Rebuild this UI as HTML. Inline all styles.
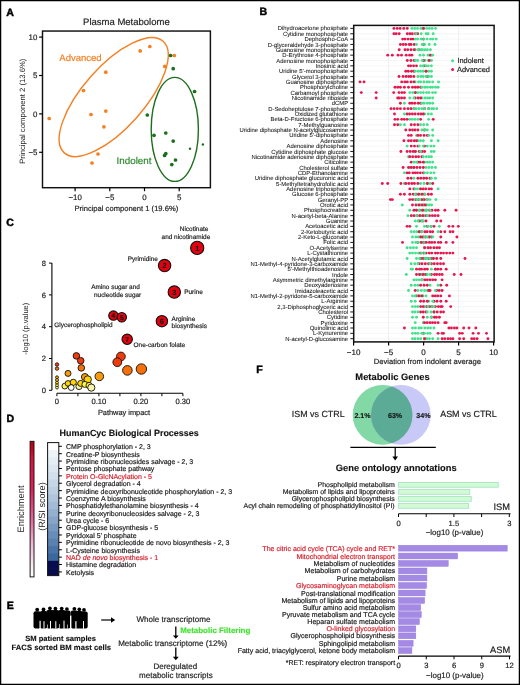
<!DOCTYPE html>
<html><head><meta charset="utf-8"><title>Figure</title>
<style>
html,body{margin:0;padding:0;background:#fff;}
body{width:520px;height:685px;overflow:hidden;}
svg{display:block;font-family:"Liberation Sans", sans-serif;will-change:transform;text-rendering:geometricPrecision;}
</style></head>
<body>
<svg width="520" height="685" viewBox="0 0 520 685">
<rect x="0" y="0" width="520" height="685" fill="#fff"/>
<text x="6.30" y="15.60" font-size="10.6" text-anchor="start" font-weight="bold" fill="#000" stroke="#000" stroke-width="0.45" >A</text>
<text x="259.60" y="15.20" font-size="10.6" text-anchor="start" font-weight="bold" fill="#000" stroke="#000" stroke-width="0.45" >B</text>
<text x="6.30" y="225.70" font-size="10.6" text-anchor="start" font-weight="bold" fill="#000" stroke="#000" stroke-width="0.45" >C</text>
<text x="6.60" y="422.40" font-size="10.6" text-anchor="start" font-weight="bold" fill="#000" stroke="#000" stroke-width="0.45" >D</text>
<text x="6.80" y="609.20" font-size="10.6" text-anchor="start" font-weight="bold" fill="#000" stroke="#000" stroke-width="0.45" >E</text>
<text x="256.20" y="372.50" font-size="10.6" text-anchor="start" font-weight="bold" fill="#000" stroke="#000" stroke-width="0.45" >F</text>
<text x="126.40" y="24.97" font-size="9.5" text-anchor="middle" fill="#222" stroke="#222" stroke-width="0.18" >Plasma Metabolome</text>
<rect x="42.5" y="31.05" width="167.9" height="156.65" fill="none" stroke="#111" stroke-width="1.45"/>
<line x1="39.10" y1="37.10" x2="42.50" y2="37.10" stroke="#000" stroke-width="1.2"/>
<text x="37.40" y="39.90" font-size="7.9" text-anchor="end" fill="#222" stroke="#222" stroke-width="0.18" >10</text>
<line x1="39.10" y1="75.50" x2="42.50" y2="75.50" stroke="#000" stroke-width="1.2"/>
<text x="37.40" y="78.30" font-size="7.9" text-anchor="end" fill="#222" stroke="#222" stroke-width="0.18" >5</text>
<line x1="39.10" y1="113.90" x2="42.50" y2="113.90" stroke="#000" stroke-width="1.2"/>
<text x="37.40" y="116.70" font-size="7.9" text-anchor="end" fill="#222" stroke="#222" stroke-width="0.18" >0</text>
<line x1="39.10" y1="152.30" x2="42.50" y2="152.30" stroke="#000" stroke-width="1.2"/>
<text x="37.40" y="155.10" font-size="7.9" text-anchor="end" fill="#222" stroke="#222" stroke-width="0.18" >−5</text>
<line x1="75.10" y1="187.70" x2="75.10" y2="191.20" stroke="#000" stroke-width="1.2"/>
<text x="75.10" y="200.00" font-size="7.9" text-anchor="middle" fill="#222" stroke="#222" stroke-width="0.18" >−10</text>
<line x1="109.80" y1="187.70" x2="109.80" y2="191.20" stroke="#000" stroke-width="1.2"/>
<text x="109.80" y="200.00" font-size="7.9" text-anchor="middle" fill="#222" stroke="#222" stroke-width="0.18" >−5</text>
<line x1="144.50" y1="187.70" x2="144.50" y2="191.20" stroke="#000" stroke-width="1.2"/>
<text x="144.50" y="200.00" font-size="7.9" text-anchor="middle" fill="#222" stroke="#222" stroke-width="0.18" >0</text>
<line x1="179.20" y1="187.70" x2="179.20" y2="191.20" stroke="#000" stroke-width="1.2"/>
<text x="179.20" y="200.00" font-size="7.9" text-anchor="middle" fill="#222" stroke="#222" stroke-width="0.18" >5</text>
<text x="126.30" y="211.30" font-size="7.6" text-anchor="middle" fill="#222" stroke="#222" stroke-width="0.18" >Principal component 1 (19.6%)</text>
<text transform="translate(24.6 111.2) rotate(-90)" font-size="7.7" text-anchor="middle" fill="#222">Principal component 2 (13.6%)</text>
<ellipse cx="113.7" cy="97.1" rx="74.5" ry="30.8" transform="rotate(-48.5 113.7 97.1)" fill="none" stroke="#f47f20" stroke-width="1.4"/>
<ellipse cx="174.8" cy="129.4" rx="23.6" ry="52.0" fill="none" stroke="#1d6e1d" stroke-width="1.4"/>
<text x="59.30" y="60.77" font-size="9.5" text-anchor="start" fill="#f47f20" stroke="#f47f20" stroke-width="0.18" >Advanced</text>
<text x="116.60" y="164.08" font-size="9.8" text-anchor="start" fill="#2f8a2f" stroke="#2f8a2f" stroke-width="0.18" >Indolent</text>
<circle cx="49.2" cy="118.5" r="1.85" fill="#f47f20"/>
<circle cx="83.5" cy="90.5" r="1.85" fill="#f47f20"/>
<circle cx="105.8" cy="72.2" r="1.85" fill="#f47f20"/>
<circle cx="91" cy="114.5" r="1.85" fill="#f47f20"/>
<circle cx="105.8" cy="111.1" r="1.85" fill="#f47f20"/>
<circle cx="103.9" cy="126.8" r="1.85" fill="#f47f20"/>
<circle cx="98" cy="154" r="1.85" fill="#f47f20"/>
<circle cx="92" cy="163" r="1.85" fill="#f47f20"/>
<circle cx="140.2" cy="50.9" r="1.85" fill="#f47f20"/>
<circle cx="149.8" cy="46.5" r="1.85" fill="#f47f20"/>
<circle cx="164.8" cy="66.4" r="1.85" fill="#f47f20"/>
<circle cx="174.3" cy="55.5" r="1.85" fill="#f47f20"/>
<circle cx="170.6" cy="55.5" r="1.85" fill="#1d6e1d"/>
<circle cx="173.2" cy="68.7" r="1.85" fill="#1d6e1d"/>
<circle cx="194.6" cy="91.5" r="1.85" fill="#1d6e1d"/>
<circle cx="147.3" cy="115" r="1.85" fill="#1d6e1d"/>
<circle cx="154" cy="135.3" r="1.85" fill="#1d6e1d"/>
<circle cx="165.8" cy="133" r="1.85" fill="#1d6e1d"/>
<circle cx="173.2" cy="141.1" r="1.85" fill="#1d6e1d"/>
<circle cx="165.8" cy="153.5" r="1.85" fill="#1d6e1d"/>
<circle cx="164.6" cy="155.4" r="1.85" fill="#1d6e1d"/>
<circle cx="175.5" cy="160" r="1.85" fill="#1d6e1d"/>
<circle cx="171.8" cy="164.6" r="1.85" fill="#1d6e1d"/>
<circle cx="190" cy="148.7" r="1.2" fill="#1d6e1d"/>
<circle cx="202.9" cy="144.5" r="1.2" fill="#1d6e1d"/>
<line x1="353.70" y1="28.40" x2="494.10" y2="28.40" stroke="#ececec" stroke-width="0.5"/>
<line x1="353.70" y1="33.75" x2="494.10" y2="33.75" stroke="#ececec" stroke-width="0.5"/>
<line x1="353.70" y1="39.10" x2="494.10" y2="39.10" stroke="#ececec" stroke-width="0.5"/>
<line x1="353.70" y1="44.45" x2="494.10" y2="44.45" stroke="#ececec" stroke-width="0.5"/>
<line x1="353.70" y1="49.80" x2="494.10" y2="49.80" stroke="#ececec" stroke-width="0.5"/>
<line x1="353.70" y1="55.15" x2="494.10" y2="55.15" stroke="#ececec" stroke-width="0.5"/>
<line x1="353.70" y1="60.50" x2="494.10" y2="60.50" stroke="#ececec" stroke-width="0.5"/>
<line x1="353.70" y1="65.85" x2="494.10" y2="65.85" stroke="#ececec" stroke-width="0.5"/>
<line x1="353.70" y1="71.20" x2="494.10" y2="71.20" stroke="#ececec" stroke-width="0.5"/>
<line x1="353.70" y1="76.55" x2="494.10" y2="76.55" stroke="#ececec" stroke-width="0.5"/>
<line x1="353.70" y1="81.90" x2="494.10" y2="81.90" stroke="#ececec" stroke-width="0.5"/>
<line x1="353.70" y1="87.25" x2="494.10" y2="87.25" stroke="#ececec" stroke-width="0.5"/>
<line x1="353.70" y1="92.60" x2="494.10" y2="92.60" stroke="#ececec" stroke-width="0.5"/>
<line x1="353.70" y1="97.95" x2="494.10" y2="97.95" stroke="#ececec" stroke-width="0.5"/>
<line x1="353.70" y1="103.30" x2="494.10" y2="103.30" stroke="#ececec" stroke-width="0.5"/>
<line x1="353.70" y1="108.65" x2="494.10" y2="108.65" stroke="#ececec" stroke-width="0.5"/>
<line x1="353.70" y1="114.00" x2="494.10" y2="114.00" stroke="#ececec" stroke-width="0.5"/>
<line x1="353.70" y1="119.35" x2="494.10" y2="119.35" stroke="#ececec" stroke-width="0.5"/>
<line x1="353.70" y1="124.70" x2="494.10" y2="124.70" stroke="#ececec" stroke-width="0.5"/>
<line x1="353.70" y1="130.05" x2="494.10" y2="130.05" stroke="#ececec" stroke-width="0.5"/>
<line x1="353.70" y1="135.40" x2="494.10" y2="135.40" stroke="#ececec" stroke-width="0.5"/>
<line x1="353.70" y1="140.75" x2="494.10" y2="140.75" stroke="#ececec" stroke-width="0.5"/>
<line x1="353.70" y1="146.10" x2="494.10" y2="146.10" stroke="#ececec" stroke-width="0.5"/>
<line x1="353.70" y1="151.45" x2="494.10" y2="151.45" stroke="#ececec" stroke-width="0.5"/>
<line x1="353.70" y1="156.80" x2="494.10" y2="156.80" stroke="#ececec" stroke-width="0.5"/>
<line x1="353.70" y1="162.15" x2="494.10" y2="162.15" stroke="#ececec" stroke-width="0.5"/>
<line x1="353.70" y1="167.50" x2="494.10" y2="167.50" stroke="#ececec" stroke-width="0.5"/>
<line x1="353.70" y1="172.85" x2="494.10" y2="172.85" stroke="#ececec" stroke-width="0.5"/>
<line x1="353.70" y1="178.20" x2="494.10" y2="178.20" stroke="#ececec" stroke-width="0.5"/>
<line x1="353.70" y1="183.55" x2="494.10" y2="183.55" stroke="#ececec" stroke-width="0.5"/>
<line x1="353.70" y1="188.90" x2="494.10" y2="188.90" stroke="#ececec" stroke-width="0.5"/>
<line x1="353.70" y1="194.25" x2="494.10" y2="194.25" stroke="#ececec" stroke-width="0.5"/>
<line x1="353.70" y1="199.60" x2="494.10" y2="199.60" stroke="#ececec" stroke-width="0.5"/>
<line x1="353.70" y1="204.95" x2="494.10" y2="204.95" stroke="#ececec" stroke-width="0.5"/>
<line x1="353.70" y1="210.30" x2="494.10" y2="210.30" stroke="#ececec" stroke-width="0.5"/>
<line x1="353.70" y1="215.65" x2="494.10" y2="215.65" stroke="#ececec" stroke-width="0.5"/>
<line x1="353.70" y1="221.00" x2="494.10" y2="221.00" stroke="#ececec" stroke-width="0.5"/>
<line x1="353.70" y1="226.35" x2="494.10" y2="226.35" stroke="#ececec" stroke-width="0.5"/>
<line x1="353.70" y1="231.70" x2="494.10" y2="231.70" stroke="#ececec" stroke-width="0.5"/>
<line x1="353.70" y1="237.05" x2="494.10" y2="237.05" stroke="#ececec" stroke-width="0.5"/>
<line x1="353.70" y1="242.40" x2="494.10" y2="242.40" stroke="#ececec" stroke-width="0.5"/>
<line x1="353.70" y1="247.75" x2="494.10" y2="247.75" stroke="#ececec" stroke-width="0.5"/>
<line x1="353.70" y1="253.10" x2="494.10" y2="253.10" stroke="#ececec" stroke-width="0.5"/>
<line x1="353.70" y1="258.45" x2="494.10" y2="258.45" stroke="#ececec" stroke-width="0.5"/>
<line x1="353.70" y1="263.80" x2="494.10" y2="263.80" stroke="#ececec" stroke-width="0.5"/>
<line x1="353.70" y1="269.15" x2="494.10" y2="269.15" stroke="#ececec" stroke-width="0.5"/>
<line x1="353.70" y1="274.50" x2="494.10" y2="274.50" stroke="#ececec" stroke-width="0.5"/>
<line x1="353.70" y1="279.85" x2="494.10" y2="279.85" stroke="#ececec" stroke-width="0.5"/>
<line x1="353.70" y1="285.20" x2="494.10" y2="285.20" stroke="#ececec" stroke-width="0.5"/>
<line x1="353.70" y1="290.55" x2="494.10" y2="290.55" stroke="#ececec" stroke-width="0.5"/>
<line x1="353.70" y1="295.90" x2="494.10" y2="295.90" stroke="#ececec" stroke-width="0.5"/>
<line x1="353.70" y1="301.25" x2="494.10" y2="301.25" stroke="#ececec" stroke-width="0.5"/>
<line x1="353.70" y1="306.60" x2="494.10" y2="306.60" stroke="#ececec" stroke-width="0.5"/>
<line x1="353.70" y1="311.95" x2="494.10" y2="311.95" stroke="#ececec" stroke-width="0.5"/>
<line x1="353.70" y1="317.30" x2="494.10" y2="317.30" stroke="#ececec" stroke-width="0.5"/>
<line x1="353.70" y1="322.65" x2="494.10" y2="322.65" stroke="#ececec" stroke-width="0.5"/>
<line x1="353.70" y1="328.00" x2="494.10" y2="328.00" stroke="#ececec" stroke-width="0.5"/>
<line x1="353.70" y1="333.35" x2="494.10" y2="333.35" stroke="#ececec" stroke-width="0.5"/>
<line x1="353.70" y1="338.70" x2="494.10" y2="338.70" stroke="#ececec" stroke-width="0.5"/>
<line x1="388.60" y1="25.40" x2="388.60" y2="341.90" stroke="#e4e4e4" stroke-width="0.6"/>
<line x1="423.60" y1="25.40" x2="423.60" y2="341.90" stroke="#e4e4e4" stroke-width="0.6"/>
<line x1="458.60" y1="25.40" x2="458.60" y2="341.90" stroke="#e4e4e4" stroke-width="0.6"/>
<text x="348.10" y="30.49" font-size="5.9" text-anchor="end" fill="#1a1a1a" stroke="#1a1a1a" stroke-width="0.07" >Dihydroacetone phosphate</text>
<line x1="350.30" y1="28.40" x2="353.70" y2="28.40" stroke="#000" stroke-width="0.9"/>
<text x="348.10" y="35.84" font-size="5.9" text-anchor="end" fill="#1a1a1a" stroke="#1a1a1a" stroke-width="0.07" >Cytidine monophosphate</text>
<line x1="350.30" y1="33.75" x2="353.70" y2="33.75" stroke="#000" stroke-width="0.9"/>
<text x="348.10" y="41.19" font-size="5.9" text-anchor="end" fill="#1a1a1a" stroke="#1a1a1a" stroke-width="0.07" >Dephospho-CoA</text>
<line x1="350.30" y1="39.10" x2="353.70" y2="39.10" stroke="#000" stroke-width="0.9"/>
<text x="348.10" y="46.54" font-size="5.9" text-anchor="end" fill="#1a1a1a" stroke="#1a1a1a" stroke-width="0.07" >D-glyceraldehyde 3-phosphate</text>
<line x1="350.30" y1="44.45" x2="353.70" y2="44.45" stroke="#000" stroke-width="0.9"/>
<text x="348.10" y="51.89" font-size="5.9" text-anchor="end" fill="#1a1a1a" stroke="#1a1a1a" stroke-width="0.07" >Guanosine monophosphate</text>
<line x1="350.30" y1="49.80" x2="353.70" y2="49.80" stroke="#000" stroke-width="0.9"/>
<text x="348.10" y="57.24" font-size="5.9" text-anchor="end" fill="#1a1a1a" stroke="#1a1a1a" stroke-width="0.07" >D-Erythrose 4-phosphate</text>
<line x1="350.30" y1="55.15" x2="353.70" y2="55.15" stroke="#000" stroke-width="0.9"/>
<text x="348.10" y="62.59" font-size="5.9" text-anchor="end" fill="#1a1a1a" stroke="#1a1a1a" stroke-width="0.07" >Adenosine monophosphate</text>
<line x1="350.30" y1="60.50" x2="353.70" y2="60.50" stroke="#000" stroke-width="0.9"/>
<text x="348.10" y="67.94" font-size="5.9" text-anchor="end" fill="#1a1a1a" stroke="#1a1a1a" stroke-width="0.07" >Inosinic acid</text>
<line x1="350.30" y1="65.85" x2="353.70" y2="65.85" stroke="#000" stroke-width="0.9"/>
<text x="348.10" y="73.29" font-size="5.9" text-anchor="end" fill="#1a1a1a" stroke="#1a1a1a" stroke-width="0.07" >Uridine 5’-monophosphate</text>
<line x1="350.30" y1="71.20" x2="353.70" y2="71.20" stroke="#000" stroke-width="0.9"/>
<text x="348.10" y="78.64" font-size="5.9" text-anchor="end" fill="#1a1a1a" stroke="#1a1a1a" stroke-width="0.07" >Glycerol 3-phosphate</text>
<line x1="350.30" y1="76.55" x2="353.70" y2="76.55" stroke="#000" stroke-width="0.9"/>
<text x="348.10" y="83.99" font-size="5.9" text-anchor="end" fill="#1a1a1a" stroke="#1a1a1a" stroke-width="0.07" >Guanosine diphosphate</text>
<line x1="350.30" y1="81.90" x2="353.70" y2="81.90" stroke="#000" stroke-width="0.9"/>
<text x="348.10" y="89.34" font-size="5.9" text-anchor="end" fill="#1a1a1a" stroke="#1a1a1a" stroke-width="0.07" >Phosphorylcholine</text>
<line x1="350.30" y1="87.25" x2="353.70" y2="87.25" stroke="#000" stroke-width="0.9"/>
<text x="348.10" y="94.69" font-size="5.9" text-anchor="end" fill="#1a1a1a" stroke="#1a1a1a" stroke-width="0.07" >Carbamoyl phosphate</text>
<line x1="350.30" y1="92.60" x2="353.70" y2="92.60" stroke="#000" stroke-width="0.9"/>
<text x="348.10" y="100.04" font-size="5.9" text-anchor="end" fill="#1a1a1a" stroke="#1a1a1a" stroke-width="0.07" >Nicotinamide riboside</text>
<line x1="350.30" y1="97.95" x2="353.70" y2="97.95" stroke="#000" stroke-width="0.9"/>
<text x="348.10" y="105.39" font-size="5.9" text-anchor="end" fill="#1a1a1a" stroke="#1a1a1a" stroke-width="0.07" >dCMP</text>
<line x1="350.30" y1="103.30" x2="353.70" y2="103.30" stroke="#000" stroke-width="0.9"/>
<text x="348.10" y="110.74" font-size="5.9" text-anchor="end" fill="#1a1a1a" stroke="#1a1a1a" stroke-width="0.07" >D-Sedoheptulose 7-phosphate</text>
<line x1="350.30" y1="108.65" x2="353.70" y2="108.65" stroke="#000" stroke-width="0.9"/>
<text x="348.10" y="116.09" font-size="5.9" text-anchor="end" fill="#1a1a1a" stroke="#1a1a1a" stroke-width="0.07" >Oxidized glutathione</text>
<line x1="350.30" y1="114.00" x2="353.70" y2="114.00" stroke="#000" stroke-width="0.9"/>
<text x="348.10" y="121.44" font-size="5.9" text-anchor="end" fill="#1a1a1a" stroke="#1a1a1a" stroke-width="0.07" >Beta-D-Fructose 6-phosphate</text>
<line x1="350.30" y1="119.35" x2="353.70" y2="119.35" stroke="#000" stroke-width="0.9"/>
<text x="348.10" y="126.79" font-size="5.9" text-anchor="end" fill="#1a1a1a" stroke="#1a1a1a" stroke-width="0.07" >7-Methylguanosine</text>
<line x1="350.30" y1="124.70" x2="353.70" y2="124.70" stroke="#000" stroke-width="0.9"/>
<text x="348.10" y="132.14" font-size="5.9" text-anchor="end" fill="#1a1a1a" stroke="#1a1a1a" stroke-width="0.07" >Uridine diphosphate N-acetylglucosamine</text>
<line x1="350.30" y1="130.05" x2="353.70" y2="130.05" stroke="#000" stroke-width="0.9"/>
<text x="348.10" y="137.49" font-size="5.9" text-anchor="end" fill="#1a1a1a" stroke="#1a1a1a" stroke-width="0.07" >Uridine 5’-diphosphate</text>
<line x1="350.30" y1="135.40" x2="353.70" y2="135.40" stroke="#000" stroke-width="0.9"/>
<text x="348.10" y="142.84" font-size="5.9" text-anchor="end" fill="#1a1a1a" stroke="#1a1a1a" stroke-width="0.07" >Adenosine</text>
<line x1="350.30" y1="140.75" x2="353.70" y2="140.75" stroke="#000" stroke-width="0.9"/>
<text x="348.10" y="148.19" font-size="5.9" text-anchor="end" fill="#1a1a1a" stroke="#1a1a1a" stroke-width="0.07" >Adenosine diphosphate</text>
<line x1="350.30" y1="146.10" x2="353.70" y2="146.10" stroke="#000" stroke-width="0.9"/>
<text x="348.10" y="153.54" font-size="5.9" text-anchor="end" fill="#1a1a1a" stroke="#1a1a1a" stroke-width="0.07" >Cytidine diphosphate glucose</text>
<line x1="350.30" y1="151.45" x2="353.70" y2="151.45" stroke="#000" stroke-width="0.9"/>
<text x="348.10" y="158.89" font-size="5.9" text-anchor="end" fill="#1a1a1a" stroke="#1a1a1a" stroke-width="0.07" >Nicotinamide adenosine diphosphate</text>
<line x1="350.30" y1="156.80" x2="353.70" y2="156.80" stroke="#000" stroke-width="0.9"/>
<text x="348.10" y="164.24" font-size="5.9" text-anchor="end" fill="#1a1a1a" stroke="#1a1a1a" stroke-width="0.07" >Citicoline</text>
<line x1="350.30" y1="162.15" x2="353.70" y2="162.15" stroke="#000" stroke-width="0.9"/>
<text x="348.10" y="169.59" font-size="5.9" text-anchor="end" fill="#1a1a1a" stroke="#1a1a1a" stroke-width="0.07" >Cholesterol sulfate</text>
<line x1="350.30" y1="167.50" x2="353.70" y2="167.50" stroke="#000" stroke-width="0.9"/>
<text x="348.10" y="174.94" font-size="5.9" text-anchor="end" fill="#1a1a1a" stroke="#1a1a1a" stroke-width="0.07" >CDP-Ethanolamine</text>
<line x1="350.30" y1="172.85" x2="353.70" y2="172.85" stroke="#000" stroke-width="0.9"/>
<text x="348.10" y="180.29" font-size="5.9" text-anchor="end" fill="#1a1a1a" stroke="#1a1a1a" stroke-width="0.07" >Uridine diphosphate glucuronic acid</text>
<line x1="350.30" y1="178.20" x2="353.70" y2="178.20" stroke="#000" stroke-width="0.9"/>
<text x="348.10" y="185.64" font-size="5.9" text-anchor="end" fill="#1a1a1a" stroke="#1a1a1a" stroke-width="0.07" >5-Methyltetrahydrofolic acid</text>
<line x1="350.30" y1="183.55" x2="353.70" y2="183.55" stroke="#000" stroke-width="0.9"/>
<text x="348.10" y="190.99" font-size="5.9" text-anchor="end" fill="#1a1a1a" stroke="#1a1a1a" stroke-width="0.07" >Adenosine triphosphate</text>
<line x1="350.30" y1="188.90" x2="353.70" y2="188.90" stroke="#000" stroke-width="0.9"/>
<text x="348.10" y="196.34" font-size="5.9" text-anchor="end" fill="#1a1a1a" stroke="#1a1a1a" stroke-width="0.07" >Glucose 6-phosphate</text>
<line x1="350.30" y1="194.25" x2="353.70" y2="194.25" stroke="#000" stroke-width="0.9"/>
<text x="348.10" y="201.69" font-size="5.9" text-anchor="end" fill="#1a1a1a" stroke="#1a1a1a" stroke-width="0.07" >Geranyl-PP</text>
<line x1="350.30" y1="199.60" x2="353.70" y2="199.60" stroke="#000" stroke-width="0.9"/>
<text x="348.10" y="207.04" font-size="5.9" text-anchor="end" fill="#1a1a1a" stroke="#1a1a1a" stroke-width="0.07" >Orotic acid</text>
<line x1="350.30" y1="204.95" x2="353.70" y2="204.95" stroke="#000" stroke-width="0.9"/>
<text x="348.10" y="212.39" font-size="5.9" text-anchor="end" fill="#1a1a1a" stroke="#1a1a1a" stroke-width="0.07" >Phosphocreatine</text>
<line x1="350.30" y1="210.30" x2="353.70" y2="210.30" stroke="#000" stroke-width="0.9"/>
<text x="348.10" y="217.74" font-size="5.9" text-anchor="end" fill="#1a1a1a" stroke="#1a1a1a" stroke-width="0.07" >N-acetyl-beta-Alanine</text>
<line x1="350.30" y1="215.65" x2="353.70" y2="215.65" stroke="#000" stroke-width="0.9"/>
<text x="348.10" y="223.09" font-size="5.9" text-anchor="end" fill="#1a1a1a" stroke="#1a1a1a" stroke-width="0.07" >Guanine</text>
<line x1="350.30" y1="221.00" x2="353.70" y2="221.00" stroke="#000" stroke-width="0.9"/>
<text x="348.10" y="228.44" font-size="5.9" text-anchor="end" fill="#1a1a1a" stroke="#1a1a1a" stroke-width="0.07" >Acetoacetic acid</text>
<line x1="350.30" y1="226.35" x2="353.70" y2="226.35" stroke="#000" stroke-width="0.9"/>
<text x="348.10" y="233.79" font-size="5.9" text-anchor="end" fill="#1a1a1a" stroke="#1a1a1a" stroke-width="0.07" >2-Ketobutyric acid</text>
<line x1="350.30" y1="231.70" x2="353.70" y2="231.70" stroke="#000" stroke-width="0.9"/>
<text x="348.10" y="239.14" font-size="5.9" text-anchor="end" fill="#1a1a1a" stroke="#1a1a1a" stroke-width="0.07" >2-Keto-L-gluconate</text>
<line x1="350.30" y1="237.05" x2="353.70" y2="237.05" stroke="#000" stroke-width="0.9"/>
<text x="348.10" y="244.49" font-size="5.9" text-anchor="end" fill="#1a1a1a" stroke="#1a1a1a" stroke-width="0.07" >Folic acid</text>
<line x1="350.30" y1="242.40" x2="353.70" y2="242.40" stroke="#000" stroke-width="0.9"/>
<text x="348.10" y="249.84" font-size="5.9" text-anchor="end" fill="#1a1a1a" stroke="#1a1a1a" stroke-width="0.07" >O-Acetylserine</text>
<line x1="350.30" y1="247.75" x2="353.70" y2="247.75" stroke="#000" stroke-width="0.9"/>
<text x="348.10" y="255.19" font-size="5.9" text-anchor="end" fill="#1a1a1a" stroke="#1a1a1a" stroke-width="0.07" >L-Cystathionine</text>
<line x1="350.30" y1="253.10" x2="353.70" y2="253.10" stroke="#000" stroke-width="0.9"/>
<text x="348.10" y="260.54" font-size="5.9" text-anchor="end" fill="#1a1a1a" stroke="#1a1a1a" stroke-width="0.07" >N-Acetylglutamic acid</text>
<line x1="350.30" y1="258.45" x2="353.70" y2="258.45" stroke="#000" stroke-width="0.9"/>
<text x="348.10" y="265.89" font-size="5.9" text-anchor="end" fill="#1a1a1a" stroke="#1a1a1a" stroke-width="0.07" >N1-Methyl-4-pyridone-3-carboxamide</text>
<line x1="350.30" y1="263.80" x2="353.70" y2="263.80" stroke="#000" stroke-width="0.9"/>
<text x="348.10" y="271.24" font-size="5.9" text-anchor="end" fill="#1a1a1a" stroke="#1a1a1a" stroke-width="0.07" >5’-Methylthioadenosine</text>
<line x1="350.30" y1="269.15" x2="353.70" y2="269.15" stroke="#000" stroke-width="0.9"/>
<text x="348.10" y="276.59" font-size="5.9" text-anchor="end" fill="#1a1a1a" stroke="#1a1a1a" stroke-width="0.07" >Indole</text>
<line x1="350.30" y1="274.50" x2="353.70" y2="274.50" stroke="#000" stroke-width="0.9"/>
<text x="348.10" y="281.94" font-size="5.9" text-anchor="end" fill="#1a1a1a" stroke="#1a1a1a" stroke-width="0.07" >Asymmetric dimethylarginine</text>
<line x1="350.30" y1="279.85" x2="353.70" y2="279.85" stroke="#000" stroke-width="0.9"/>
<text x="348.10" y="287.29" font-size="5.9" text-anchor="end" fill="#1a1a1a" stroke="#1a1a1a" stroke-width="0.07" >Deoxyadenosine</text>
<line x1="350.30" y1="285.20" x2="353.70" y2="285.20" stroke="#000" stroke-width="0.9"/>
<text x="348.10" y="292.64" font-size="5.9" text-anchor="end" fill="#1a1a1a" stroke="#1a1a1a" stroke-width="0.07" >Imidazoleacetic acid</text>
<line x1="350.30" y1="290.55" x2="353.70" y2="290.55" stroke="#000" stroke-width="0.9"/>
<text x="348.10" y="297.99" font-size="5.9" text-anchor="end" fill="#1a1a1a" stroke="#1a1a1a" stroke-width="0.07" >N1-Methyl-2-pyridone-5-carboxamide</text>
<line x1="350.30" y1="295.90" x2="353.70" y2="295.90" stroke="#000" stroke-width="0.9"/>
<text x="348.10" y="303.34" font-size="5.9" text-anchor="end" fill="#1a1a1a" stroke="#1a1a1a" stroke-width="0.07" >L-Arginine</text>
<line x1="350.30" y1="301.25" x2="353.70" y2="301.25" stroke="#000" stroke-width="0.9"/>
<text x="348.10" y="308.69" font-size="5.9" text-anchor="end" fill="#1a1a1a" stroke="#1a1a1a" stroke-width="0.07" >2,3-Diphosphoglyceric acid</text>
<line x1="350.30" y1="306.60" x2="353.70" y2="306.60" stroke="#000" stroke-width="0.9"/>
<text x="348.10" y="314.04" font-size="5.9" text-anchor="end" fill="#1a1a1a" stroke="#1a1a1a" stroke-width="0.07" >Cholesterol</text>
<line x1="350.30" y1="311.95" x2="353.70" y2="311.95" stroke="#000" stroke-width="0.9"/>
<text x="348.10" y="319.39" font-size="5.9" text-anchor="end" fill="#1a1a1a" stroke="#1a1a1a" stroke-width="0.07" >Cytidine</text>
<line x1="350.30" y1="317.30" x2="353.70" y2="317.30" stroke="#000" stroke-width="0.9"/>
<text x="348.10" y="324.74" font-size="5.9" text-anchor="end" fill="#1a1a1a" stroke="#1a1a1a" stroke-width="0.07" >Pyridoxine</text>
<line x1="350.30" y1="322.65" x2="353.70" y2="322.65" stroke="#000" stroke-width="0.9"/>
<text x="348.10" y="330.09" font-size="5.9" text-anchor="end" fill="#1a1a1a" stroke="#1a1a1a" stroke-width="0.07" >Quinolinic acid</text>
<line x1="350.30" y1="328.00" x2="353.70" y2="328.00" stroke="#000" stroke-width="0.9"/>
<text x="348.10" y="335.44" font-size="5.9" text-anchor="end" fill="#1a1a1a" stroke="#1a1a1a" stroke-width="0.07" >L-Kynurenine</text>
<line x1="350.30" y1="333.35" x2="353.70" y2="333.35" stroke="#000" stroke-width="0.9"/>
<text x="348.10" y="340.79" font-size="5.9" text-anchor="end" fill="#1a1a1a" stroke="#1a1a1a" stroke-width="0.07" >N-acetyl-D-glucosamine</text>
<line x1="350.30" y1="338.70" x2="353.70" y2="338.70" stroke="#000" stroke-width="0.9"/>
<circle cx="401.5" cy="55.15" r="1.45" fill="#e8164f"/>
<circle cx="412.5" cy="311.95" r="1.45" fill="#3fe38c"/>
<circle cx="420.9" cy="295.90" r="1.45" fill="#3fe38c"/>
<circle cx="439.2" cy="290.55" r="1.45" fill="#e8164f"/>
<circle cx="415.2" cy="97.95" r="1.45" fill="#e8164f"/>
<circle cx="426.7" cy="204.95" r="1.45" fill="#3fe38c"/>
<circle cx="435.9" cy="199.60" r="1.45" fill="#3fe38c"/>
<circle cx="446.2" cy="322.65" r="1.45" fill="#e8164f"/>
<circle cx="416.8" cy="231.70" r="1.45" fill="#3fe38c"/>
<circle cx="423.3" cy="172.85" r="1.45" fill="#e8164f"/>
<circle cx="376.2" cy="92.60" r="1.45" fill="#e8164f"/>
<circle cx="432.7" cy="258.45" r="1.45" fill="#3fe38c"/>
<circle cx="416.5" cy="135.40" r="1.45" fill="#3fe38c"/>
<circle cx="427.2" cy="322.65" r="1.45" fill="#e8164f"/>
<circle cx="418.5" cy="156.80" r="1.45" fill="#e8164f"/>
<circle cx="411.0" cy="81.90" r="1.45" fill="#e8164f"/>
<circle cx="415.9" cy="199.60" r="1.45" fill="#e8164f"/>
<circle cx="408.5" cy="140.75" r="1.45" fill="#e8164f"/>
<circle cx="431.4" cy="237.05" r="1.45" fill="#e8164f"/>
<circle cx="429.2" cy="44.45" r="1.45" fill="#3fe38c"/>
<circle cx="418.8" cy="49.80" r="1.45" fill="#e8164f"/>
<circle cx="420.6" cy="311.95" r="1.45" fill="#e8164f"/>
<circle cx="399.0" cy="97.95" r="1.45" fill="#e8164f"/>
<circle cx="424.7" cy="194.25" r="1.45" fill="#e8164f"/>
<circle cx="419.2" cy="274.50" r="1.45" fill="#3fe38c"/>
<circle cx="410.4" cy="247.75" r="1.45" fill="#3fe38c"/>
<circle cx="456.1" cy="210.30" r="1.45" fill="#e8164f"/>
<circle cx="420.6" cy="87.25" r="1.45" fill="#e8164f"/>
<circle cx="423.3" cy="317.30" r="1.45" fill="#e8164f"/>
<circle cx="452.9" cy="231.70" r="1.45" fill="#e8164f"/>
<circle cx="419.2" cy="151.45" r="1.45" fill="#e8164f"/>
<circle cx="412.5" cy="204.95" r="1.45" fill="#e8164f"/>
<circle cx="427.3" cy="135.40" r="1.45" fill="#e8164f"/>
<circle cx="412.2" cy="119.35" r="1.45" fill="#3fe38c"/>
<circle cx="421.9" cy="279.85" r="1.45" fill="#e8164f"/>
<circle cx="421.9" cy="97.95" r="1.45" fill="#3fe38c"/>
<circle cx="408.5" cy="156.80" r="1.45" fill="#3fe38c"/>
<circle cx="396.2" cy="33.75" r="1.45" fill="#e8164f"/>
<circle cx="413.9" cy="71.20" r="1.45" fill="#e8164f"/>
<circle cx="424.6" cy="290.55" r="1.45" fill="#3fe38c"/>
<circle cx="428.9" cy="92.60" r="1.45" fill="#3fe38c"/>
<circle cx="433.6" cy="108.65" r="1.45" fill="#3fe38c"/>
<circle cx="421.6" cy="231.70" r="1.45" fill="#e8164f"/>
<circle cx="413.9" cy="199.60" r="1.45" fill="#3fe38c"/>
<circle cx="418.0" cy="338.70" r="1.45" fill="#3fe38c"/>
<circle cx="437.4" cy="263.80" r="1.45" fill="#e8164f"/>
<circle cx="407.1" cy="114.00" r="1.45" fill="#e8164f"/>
<circle cx="429.0" cy="156.80" r="1.45" fill="#3fe38c"/>
<circle cx="416.0" cy="194.25" r="1.45" fill="#e8164f"/>
<circle cx="435.4" cy="253.10" r="1.45" fill="#e8164f"/>
<circle cx="395.0" cy="119.35" r="1.45" fill="#e8164f"/>
<circle cx="412.4" cy="199.60" r="1.45" fill="#e8164f"/>
<circle cx="477.1" cy="338.70" r="1.45" fill="#e8164f"/>
<circle cx="414.2" cy="60.50" r="1.45" fill="#e8164f"/>
<circle cx="421.8" cy="258.45" r="1.45" fill="#3fe38c"/>
<circle cx="416.0" cy="204.95" r="1.45" fill="#e8164f"/>
<circle cx="421.9" cy="87.25" r="1.45" fill="#3fe38c"/>
<circle cx="452.9" cy="226.35" r="1.45" fill="#e8164f"/>
<circle cx="430.5" cy="247.75" r="1.45" fill="#e8164f"/>
<circle cx="392.3" cy="55.15" r="1.45" fill="#e8164f"/>
<circle cx="403.9" cy="140.75" r="1.45" fill="#e8164f"/>
<circle cx="444.8" cy="231.70" r="1.45" fill="#e8164f"/>
<circle cx="410.2" cy="151.45" r="1.45" fill="#e8164f"/>
<circle cx="402.5" cy="242.40" r="1.45" fill="#e8164f"/>
<circle cx="428.6" cy="258.45" r="1.45" fill="#e8164f"/>
<circle cx="435.4" cy="269.15" r="1.45" fill="#3fe38c"/>
<circle cx="424.6" cy="151.45" r="1.45" fill="#e8164f"/>
<circle cx="450.2" cy="231.70" r="1.45" fill="#e8164f"/>
<circle cx="413.9" cy="210.30" r="1.45" fill="#e8164f"/>
<circle cx="439.4" cy="317.30" r="1.45" fill="#e8164f"/>
<circle cx="427.3" cy="76.55" r="1.45" fill="#e8164f"/>
<circle cx="423.3" cy="28.40" r="1.45" fill="#3fe38c"/>
<circle cx="415.0" cy="285.20" r="1.45" fill="#3fe38c"/>
<circle cx="429.5" cy="215.65" r="1.45" fill="#e8164f"/>
<circle cx="428.7" cy="135.40" r="1.45" fill="#3fe38c"/>
<circle cx="435.4" cy="92.60" r="1.45" fill="#3fe38c"/>
<circle cx="426.0" cy="167.50" r="1.45" fill="#3fe38c"/>
<circle cx="426.2" cy="210.30" r="1.45" fill="#e8164f"/>
<circle cx="420.8" cy="178.20" r="1.45" fill="#e8164f"/>
<circle cx="404.8" cy="81.90" r="1.45" fill="#e8164f"/>
<circle cx="400.4" cy="103.30" r="1.45" fill="#e8164f"/>
<circle cx="413.9" cy="167.50" r="1.45" fill="#3fe38c"/>
<circle cx="411.2" cy="269.15" r="1.45" fill="#3fe38c"/>
<circle cx="452.9" cy="242.40" r="1.45" fill="#e8164f"/>
<circle cx="411.2" cy="178.20" r="1.45" fill="#e8164f"/>
<circle cx="427.4" cy="172.85" r="1.45" fill="#3fe38c"/>
<circle cx="418.0" cy="194.25" r="1.45" fill="#3fe38c"/>
<circle cx="419.7" cy="210.30" r="1.45" fill="#e8164f"/>
<circle cx="440.8" cy="285.20" r="1.45" fill="#e8164f"/>
<circle cx="427.4" cy="162.15" r="1.45" fill="#3fe38c"/>
<circle cx="420.6" cy="306.60" r="1.45" fill="#e8164f"/>
<circle cx="435.5" cy="210.30" r="1.45" fill="#e8164f"/>
<circle cx="426.8" cy="210.30" r="1.45" fill="#3fe38c"/>
<circle cx="427.1" cy="39.10" r="1.45" fill="#3fe38c"/>
<circle cx="409.8" cy="119.35" r="1.45" fill="#3fe38c"/>
<circle cx="409.8" cy="156.80" r="1.45" fill="#e8164f"/>
<circle cx="435.4" cy="306.60" r="1.45" fill="#e8164f"/>
<circle cx="427.3" cy="317.30" r="1.45" fill="#3fe38c"/>
<circle cx="449.4" cy="295.90" r="1.45" fill="#e8164f"/>
<circle cx="416.5" cy="269.15" r="1.45" fill="#e8164f"/>
<circle cx="426.0" cy="311.95" r="1.45" fill="#e8164f"/>
<circle cx="425.1" cy="97.95" r="1.45" fill="#3fe38c"/>
<circle cx="451.4" cy="328.00" r="1.45" fill="#e8164f"/>
<circle cx="393.7" cy="92.60" r="1.45" fill="#e8164f"/>
<circle cx="409.8" cy="226.35" r="1.45" fill="#e8164f"/>
<circle cx="478.5" cy="333.35" r="1.45" fill="#e8164f"/>
<circle cx="421.1" cy="237.05" r="1.45" fill="#3fe38c"/>
<circle cx="421.2" cy="39.10" r="1.45" fill="#3fe38c"/>
<circle cx="404.4" cy="92.60" r="1.45" fill="#e8164f"/>
<circle cx="412.5" cy="253.10" r="1.45" fill="#3fe38c"/>
<circle cx="444.7" cy="338.70" r="1.45" fill="#e8164f"/>
<circle cx="429.8" cy="97.95" r="1.45" fill="#3fe38c"/>
<circle cx="431.4" cy="194.25" r="1.45" fill="#e8164f"/>
<circle cx="417.7" cy="39.10" r="1.45" fill="#3fe38c"/>
<circle cx="459.6" cy="333.35" r="1.45" fill="#e8164f"/>
<circle cx="424.9" cy="274.50" r="1.45" fill="#3fe38c"/>
<circle cx="420.7" cy="338.70" r="1.45" fill="#3fe38c"/>
<circle cx="390.4" cy="199.60" r="1.45" fill="#e8164f"/>
<circle cx="422.9" cy="237.05" r="1.45" fill="#e8164f"/>
<circle cx="411.2" cy="215.65" r="1.45" fill="#e8164f"/>
<circle cx="448.9" cy="226.35" r="1.45" fill="#e8164f"/>
<circle cx="419.2" cy="279.85" r="1.45" fill="#3fe38c"/>
<circle cx="440.8" cy="242.40" r="1.45" fill="#e8164f"/>
<circle cx="436.7" cy="258.45" r="1.45" fill="#e8164f"/>
<circle cx="393.9" cy="28.40" r="1.45" fill="#e8164f"/>
<circle cx="431.0" cy="258.45" r="1.45" fill="#e8164f"/>
<circle cx="427.6" cy="333.35" r="1.45" fill="#3fe38c"/>
<circle cx="408.3" cy="71.20" r="1.45" fill="#e8164f"/>
<circle cx="418.9" cy="328.00" r="1.45" fill="#3fe38c"/>
<circle cx="436.7" cy="108.65" r="1.45" fill="#3fe38c"/>
<circle cx="419.5" cy="269.15" r="1.45" fill="#e8164f"/>
<circle cx="430.3" cy="231.70" r="1.45" fill="#e8164f"/>
<circle cx="417.5" cy="188.90" r="1.45" fill="#3fe38c"/>
<circle cx="431.4" cy="317.30" r="1.45" fill="#e8164f"/>
<circle cx="394.5" cy="114.00" r="1.45" fill="#e8164f"/>
<circle cx="413.1" cy="39.10" r="1.45" fill="#e8164f"/>
<circle cx="412.5" cy="333.35" r="1.45" fill="#3fe38c"/>
<circle cx="412.1" cy="103.30" r="1.45" fill="#e8164f"/>
<circle cx="427.3" cy="279.85" r="1.45" fill="#e8164f"/>
<circle cx="409.8" cy="130.05" r="1.45" fill="#e8164f"/>
<circle cx="401.9" cy="92.60" r="1.45" fill="#e8164f"/>
<circle cx="428.7" cy="76.55" r="1.45" fill="#3fe38c"/>
<circle cx="469.0" cy="328.00" r="1.45" fill="#e8164f"/>
<circle cx="425.1" cy="60.50" r="1.45" fill="#3fe38c"/>
<circle cx="430.4" cy="49.80" r="1.45" fill="#3fe38c"/>
<circle cx="402.3" cy="204.95" r="1.45" fill="#3fe38c"/>
<circle cx="422.9" cy="295.90" r="1.45" fill="#3fe38c"/>
<circle cx="417.5" cy="28.40" r="1.45" fill="#3fe38c"/>
<circle cx="442.1" cy="279.85" r="1.45" fill="#e8164f"/>
<circle cx="442.1" cy="333.35" r="1.45" fill="#e8164f"/>
<circle cx="438.4" cy="242.40" r="1.45" fill="#e8164f"/>
<circle cx="450.7" cy="306.60" r="1.45" fill="#e8164f"/>
<circle cx="420.6" cy="258.45" r="1.45" fill="#e8164f"/>
<circle cx="419.0" cy="210.30" r="1.45" fill="#3fe38c"/>
<circle cx="424.6" cy="162.15" r="1.45" fill="#3fe38c"/>
<circle cx="427.4" cy="183.55" r="1.45" fill="#3fe38c"/>
<circle cx="430.9" cy="146.10" r="1.45" fill="#3fe38c"/>
<circle cx="417.9" cy="306.60" r="1.45" fill="#3fe38c"/>
<circle cx="427.3" cy="49.80" r="1.45" fill="#3fe38c"/>
<circle cx="424.6" cy="130.05" r="1.45" fill="#e8164f"/>
<circle cx="409.8" cy="97.95" r="1.45" fill="#3fe38c"/>
<circle cx="434.4" cy="317.30" r="1.45" fill="#e8164f"/>
<circle cx="411.0" cy="108.65" r="1.45" fill="#e8164f"/>
<circle cx="443.5" cy="253.10" r="1.45" fill="#e8164f"/>
<circle cx="418.5" cy="253.10" r="1.45" fill="#3fe38c"/>
<circle cx="417.7" cy="60.50" r="1.45" fill="#3fe38c"/>
<circle cx="412.5" cy="269.15" r="1.45" fill="#3fe38c"/>
<circle cx="431.4" cy="151.45" r="1.45" fill="#3fe38c"/>
<circle cx="416.5" cy="258.45" r="1.45" fill="#3fe38c"/>
<circle cx="423.9" cy="204.95" r="1.45" fill="#3fe38c"/>
<circle cx="428.1" cy="55.15" r="1.45" fill="#3fe38c"/>
<circle cx="417.9" cy="285.20" r="1.45" fill="#3fe38c"/>
<circle cx="438.1" cy="285.20" r="1.45" fill="#3fe38c"/>
<circle cx="420.6" cy="204.95" r="1.45" fill="#3fe38c"/>
<circle cx="427.6" cy="97.95" r="1.45" fill="#3fe38c"/>
<circle cx="429.7" cy="103.30" r="1.45" fill="#3fe38c"/>
<circle cx="428.8" cy="167.50" r="1.45" fill="#3fe38c"/>
<circle cx="420.6" cy="124.70" r="1.45" fill="#3fe38c"/>
<circle cx="426.6" cy="178.20" r="1.45" fill="#e8164f"/>
<circle cx="422.0" cy="151.45" r="1.45" fill="#e8164f"/>
<circle cx="486.5" cy="333.35" r="1.45" fill="#e8164f"/>
<circle cx="423.3" cy="162.15" r="1.45" fill="#e8164f"/>
<circle cx="419.2" cy="263.80" r="1.45" fill="#e8164f"/>
<circle cx="409.8" cy="194.25" r="1.45" fill="#e8164f"/>
<circle cx="417.9" cy="92.60" r="1.45" fill="#3fe38c"/>
<circle cx="407.7" cy="49.80" r="1.45" fill="#e8164f"/>
<circle cx="430.0" cy="333.35" r="1.45" fill="#3fe38c"/>
<circle cx="431.8" cy="306.60" r="1.45" fill="#e8164f"/>
<circle cx="432.1" cy="28.40" r="1.45" fill="#3fe38c"/>
<circle cx="432.7" cy="295.90" r="1.45" fill="#e8164f"/>
<circle cx="437.0" cy="301.25" r="1.45" fill="#e8164f"/>
<circle cx="424.3" cy="338.70" r="1.45" fill="#3fe38c"/>
<circle cx="418.2" cy="204.95" r="1.45" fill="#3fe38c"/>
<circle cx="405.8" cy="44.45" r="1.45" fill="#e8164f"/>
<circle cx="417.9" cy="263.80" r="1.45" fill="#3fe38c"/>
<circle cx="420.6" cy="301.25" r="1.45" fill="#e8164f"/>
<circle cx="424.1" cy="183.55" r="1.45" fill="#3fe38c"/>
<circle cx="414.4" cy="183.55" r="1.45" fill="#e8164f"/>
<circle cx="440.8" cy="253.10" r="1.45" fill="#e8164f"/>
<circle cx="432.7" cy="97.95" r="1.45" fill="#3fe38c"/>
<circle cx="421.7" cy="274.50" r="1.45" fill="#3fe38c"/>
<circle cx="399.2" cy="33.75" r="1.45" fill="#e8164f"/>
<circle cx="411.8" cy="183.55" r="1.45" fill="#e8164f"/>
<circle cx="434.2" cy="263.80" r="1.45" fill="#e8164f"/>
<circle cx="387.7" cy="183.55" r="1.45" fill="#e8164f"/>
<circle cx="427.3" cy="290.55" r="1.45" fill="#3fe38c"/>
<circle cx="425.3" cy="263.80" r="1.45" fill="#e8164f"/>
<circle cx="423.9" cy="44.45" r="1.45" fill="#e8164f"/>
<circle cx="415.2" cy="322.65" r="1.45" fill="#3fe38c"/>
<circle cx="429.2" cy="253.10" r="1.45" fill="#e8164f"/>
<circle cx="413.9" cy="188.90" r="1.45" fill="#e8164f"/>
<circle cx="429.0" cy="188.90" r="1.45" fill="#e8164f"/>
<circle cx="422.2" cy="221.00" r="1.45" fill="#e8164f"/>
<circle cx="423.3" cy="167.50" r="1.45" fill="#e8164f"/>
<circle cx="430.0" cy="199.60" r="1.45" fill="#3fe38c"/>
<circle cx="446.2" cy="242.40" r="1.45" fill="#e8164f"/>
<circle cx="434.0" cy="328.00" r="1.45" fill="#3fe38c"/>
<circle cx="415.2" cy="151.45" r="1.45" fill="#3fe38c"/>
<circle cx="431.1" cy="226.35" r="1.45" fill="#e8164f"/>
<circle cx="431.6" cy="204.95" r="1.45" fill="#3fe38c"/>
<circle cx="442.1" cy="290.55" r="1.45" fill="#e8164f"/>
<circle cx="417.9" cy="130.05" r="1.45" fill="#e8164f"/>
<circle cx="446.2" cy="269.15" r="1.45" fill="#e8164f"/>
<circle cx="408.5" cy="65.85" r="1.45" fill="#e8164f"/>
<circle cx="418.6" cy="199.60" r="1.45" fill="#e8164f"/>
<circle cx="409.8" cy="199.60" r="1.45" fill="#e8164f"/>
<circle cx="409.3" cy="172.85" r="1.45" fill="#e8164f"/>
<circle cx="435.5" cy="28.40" r="1.45" fill="#3fe38c"/>
<circle cx="435.4" cy="279.85" r="1.45" fill="#e8164f"/>
<circle cx="420.6" cy="253.10" r="1.45" fill="#e8164f"/>
<circle cx="360.0" cy="81.90" r="1.45" fill="#e8164f"/>
<circle cx="415.4" cy="328.00" r="1.45" fill="#3fe38c"/>
<circle cx="404.4" cy="124.70" r="1.45" fill="#3fe38c"/>
<circle cx="403.2" cy="44.45" r="1.45" fill="#e8164f"/>
<circle cx="428.5" cy="60.50" r="1.45" fill="#3fe38c"/>
<circle cx="431.3" cy="306.60" r="1.45" fill="#3fe38c"/>
<circle cx="411.2" cy="301.25" r="1.45" fill="#3fe38c"/>
<circle cx="431.4" cy="140.75" r="1.45" fill="#3fe38c"/>
<circle cx="416.5" cy="295.90" r="1.45" fill="#e8164f"/>
<circle cx="415.4" cy="60.50" r="1.45" fill="#3fe38c"/>
<circle cx="409.6" cy="114.00" r="1.45" fill="#e8164f"/>
<circle cx="412.5" cy="328.00" r="1.45" fill="#3fe38c"/>
<circle cx="420.3" cy="172.85" r="1.45" fill="#e8164f"/>
<circle cx="407.1" cy="247.75" r="1.45" fill="#3fe38c"/>
<circle cx="471.7" cy="338.70" r="1.45" fill="#e8164f"/>
<circle cx="416.5" cy="274.50" r="1.45" fill="#e8164f"/>
<circle cx="430.0" cy="322.65" r="1.45" fill="#e8164f"/>
<circle cx="376.2" cy="97.95" r="1.45" fill="#e8164f"/>
<circle cx="407.3" cy="28.40" r="1.45" fill="#e8164f"/>
<circle cx="427.3" cy="199.60" r="1.45" fill="#e8164f"/>
<circle cx="411.2" cy="162.15" r="1.45" fill="#e8164f"/>
<circle cx="438.1" cy="338.70" r="1.45" fill="#3fe38c"/>
<circle cx="394.5" cy="124.70" r="1.45" fill="#e8164f"/>
<circle cx="423.8" cy="242.40" r="1.45" fill="#e8164f"/>
<circle cx="415.4" cy="49.80" r="1.45" fill="#3fe38c"/>
<circle cx="417.7" cy="33.75" r="1.45" fill="#e8164f"/>
<circle cx="429.3" cy="204.95" r="1.45" fill="#3fe38c"/>
<circle cx="432.7" cy="338.70" r="1.45" fill="#3fe38c"/>
<circle cx="423.6" cy="253.10" r="1.45" fill="#e8164f"/>
<circle cx="400.4" cy="108.65" r="1.45" fill="#e8164f"/>
<circle cx="438.1" cy="210.30" r="1.45" fill="#e8164f"/>
<circle cx="422.4" cy="215.65" r="1.45" fill="#3fe38c"/>
<circle cx="431.4" cy="65.85" r="1.45" fill="#3fe38c"/>
<circle cx="417.9" cy="140.75" r="1.45" fill="#3fe38c"/>
<circle cx="430.8" cy="172.85" r="1.45" fill="#3fe38c"/>
<circle cx="404.4" cy="87.25" r="1.45" fill="#e8164f"/>
<circle cx="417.9" cy="333.35" r="1.45" fill="#3fe38c"/>
<circle cx="417.9" cy="76.55" r="1.45" fill="#3fe38c"/>
<circle cx="420.6" cy="285.20" r="1.45" fill="#e8164f"/>
<circle cx="431.4" cy="76.55" r="1.45" fill="#3fe38c"/>
<circle cx="420.6" cy="188.90" r="1.45" fill="#3fe38c"/>
<circle cx="420.6" cy="183.55" r="1.45" fill="#3fe38c"/>
<circle cx="418.1" cy="71.20" r="1.45" fill="#3fe38c"/>
<circle cx="417.9" cy="124.70" r="1.45" fill="#e8164f"/>
<circle cx="426.1" cy="71.20" r="1.45" fill="#3fe38c"/>
<circle cx="432.8" cy="39.10" r="1.45" fill="#3fe38c"/>
<circle cx="443.5" cy="263.80" r="1.45" fill="#e8164f"/>
<circle cx="397.8" cy="87.25" r="1.45" fill="#e8164f"/>
<circle cx="421.9" cy="279.85" r="1.45" fill="#3fe38c"/>
<circle cx="438.1" cy="333.35" r="1.45" fill="#e8164f"/>
<circle cx="416.2" cy="108.65" r="1.45" fill="#3fe38c"/>
<circle cx="454.4" cy="328.00" r="1.45" fill="#e8164f"/>
<circle cx="452.9" cy="253.10" r="1.45" fill="#e8164f"/>
<circle cx="419.2" cy="231.70" r="1.45" fill="#3fe38c"/>
<circle cx="426.1" cy="253.10" r="1.45" fill="#e8164f"/>
<circle cx="414.5" cy="124.70" r="1.45" fill="#e8164f"/>
<circle cx="411.2" cy="146.10" r="1.45" fill="#e8164f"/>
<circle cx="434.0" cy="301.25" r="1.45" fill="#e8164f"/>
<circle cx="423.8" cy="178.20" r="1.45" fill="#e8164f"/>
<circle cx="426.0" cy="76.55" r="1.45" fill="#3fe38c"/>
<circle cx="429.4" cy="81.90" r="1.45" fill="#3fe38c"/>
<circle cx="416.9" cy="215.65" r="1.45" fill="#e8164f"/>
<circle cx="430.5" cy="328.00" r="1.45" fill="#3fe38c"/>
<circle cx="409.8" cy="188.90" r="1.45" fill="#e8164f"/>
<circle cx="416.5" cy="65.85" r="1.45" fill="#e8164f"/>
<circle cx="404.4" cy="183.55" r="1.45" fill="#3fe38c"/>
<circle cx="415.4" cy="39.10" r="1.45" fill="#3fe38c"/>
<circle cx="409.8" cy="92.60" r="1.45" fill="#3fe38c"/>
<circle cx="423.3" cy="221.00" r="1.45" fill="#3fe38c"/>
<circle cx="420.9" cy="221.00" r="1.45" fill="#3fe38c"/>
<circle cx="415.2" cy="81.90" r="1.45" fill="#3fe38c"/>
<circle cx="427.2" cy="199.60" r="1.45" fill="#3fe38c"/>
<circle cx="403.1" cy="76.55" r="1.45" fill="#e8164f"/>
<circle cx="428.7" cy="301.25" r="1.45" fill="#3fe38c"/>
<circle cx="433.2" cy="119.35" r="1.45" fill="#e8164f"/>
<circle cx="407.1" cy="258.45" r="1.45" fill="#3fe38c"/>
<circle cx="416.5" cy="226.35" r="1.45" fill="#3fe38c"/>
<circle cx="421.9" cy="210.30" r="1.45" fill="#3fe38c"/>
<circle cx="434.5" cy="274.50" r="1.45" fill="#e8164f"/>
<circle cx="421.9" cy="242.40" r="1.45" fill="#3fe38c"/>
<circle cx="415.5" cy="253.10" r="1.45" fill="#3fe38c"/>
<circle cx="428.7" cy="290.55" r="1.45" fill="#e8164f"/>
<circle cx="425.2" cy="204.95" r="1.45" fill="#e8164f"/>
<circle cx="426.3" cy="156.80" r="1.45" fill="#3fe38c"/>
<circle cx="412.9" cy="172.85" r="1.45" fill="#e8164f"/>
<circle cx="416.5" cy="210.30" r="1.45" fill="#3fe38c"/>
<circle cx="414.8" cy="103.30" r="1.45" fill="#e8164f"/>
<circle cx="424.4" cy="199.60" r="1.45" fill="#3fe38c"/>
<circle cx="407.1" cy="151.45" r="1.45" fill="#e8164f"/>
<circle cx="419.7" cy="215.65" r="1.45" fill="#3fe38c"/>
<circle cx="430.0" cy="279.85" r="1.45" fill="#e8164f"/>
<circle cx="402.7" cy="39.10" r="1.45" fill="#e8164f"/>
<circle cx="409.2" cy="44.45" r="1.45" fill="#e8164f"/>
<circle cx="422.3" cy="49.80" r="1.45" fill="#3fe38c"/>
<circle cx="432.7" cy="279.85" r="1.45" fill="#e8164f"/>
<circle cx="431.1" cy="311.95" r="1.45" fill="#3fe38c"/>
<circle cx="420.6" cy="81.90" r="1.45" fill="#3fe38c"/>
<circle cx="432.7" cy="162.15" r="1.45" fill="#3fe38c"/>
<circle cx="430.0" cy="178.20" r="1.45" fill="#e8164f"/>
<circle cx="417.8" cy="87.25" r="1.45" fill="#e8164f"/>
<circle cx="430.0" cy="183.55" r="1.45" fill="#3fe38c"/>
<circle cx="406.3" cy="274.50" r="1.45" fill="#3fe38c"/>
<circle cx="413.3" cy="194.25" r="1.45" fill="#e8164f"/>
<circle cx="399.0" cy="76.55" r="1.45" fill="#e8164f"/>
<circle cx="415.2" cy="188.90" r="1.45" fill="#3fe38c"/>
<circle cx="407.9" cy="178.20" r="1.45" fill="#e8164f"/>
<circle cx="393.9" cy="33.75" r="1.45" fill="#e8164f"/>
<circle cx="416.5" cy="140.75" r="1.45" fill="#e8164f"/>
<circle cx="422.3" cy="44.45" r="1.45" fill="#3fe38c"/>
<circle cx="414.9" cy="119.35" r="1.45" fill="#3fe38c"/>
<circle cx="440.8" cy="295.90" r="1.45" fill="#e8164f"/>
<circle cx="425.6" cy="237.05" r="1.45" fill="#e8164f"/>
<circle cx="408.5" cy="135.40" r="1.45" fill="#e8164f"/>
<circle cx="409.6" cy="55.15" r="1.45" fill="#e8164f"/>
<circle cx="440.8" cy="258.45" r="1.45" fill="#e8164f"/>
<circle cx="420.8" cy="76.55" r="1.45" fill="#3fe38c"/>
<circle cx="442.1" cy="306.60" r="1.45" fill="#e8164f"/>
<circle cx="400.9" cy="183.55" r="1.45" fill="#e8164f"/>
<circle cx="418.3" cy="114.00" r="1.45" fill="#e8164f"/>
<circle cx="401.7" cy="119.35" r="1.45" fill="#e8164f"/>
<circle cx="415.2" cy="301.25" r="1.45" fill="#3fe38c"/>
<circle cx="420.6" cy="103.30" r="1.45" fill="#e8164f"/>
<circle cx="432.5" cy="322.65" r="1.45" fill="#e8164f"/>
<circle cx="411.9" cy="28.40" r="1.45" fill="#3fe38c"/>
<circle cx="440.8" cy="269.15" r="1.45" fill="#e8164f"/>
<circle cx="446.2" cy="301.25" r="1.45" fill="#e8164f"/>
<circle cx="420.6" cy="119.35" r="1.45" fill="#e8164f"/>
<circle cx="413.9" cy="108.65" r="1.45" fill="#e8164f"/>
<circle cx="439.5" cy="274.50" r="1.45" fill="#e8164f"/>
<circle cx="426.6" cy="306.60" r="1.45" fill="#e8164f"/>
<circle cx="443.5" cy="333.35" r="1.45" fill="#e8164f"/>
<circle cx="415.6" cy="92.60" r="1.45" fill="#3fe38c"/>
<circle cx="424.6" cy="114.00" r="1.45" fill="#3fe38c"/>
<circle cx="415.1" cy="114.00" r="1.45" fill="#e8164f"/>
<circle cx="435.4" cy="167.50" r="1.45" fill="#3fe38c"/>
<circle cx="415.9" cy="237.05" r="1.45" fill="#3fe38c"/>
<circle cx="421.4" cy="290.55" r="1.45" fill="#3fe38c"/>
<circle cx="439.4" cy="226.35" r="1.45" fill="#3fe38c"/>
<circle cx="423.1" cy="188.90" r="1.45" fill="#e8164f"/>
<circle cx="411.2" cy="263.80" r="1.45" fill="#3fe38c"/>
<circle cx="411.5" cy="71.20" r="1.45" fill="#e8164f"/>
<circle cx="417.9" cy="162.15" r="1.45" fill="#e8164f"/>
<circle cx="435.4" cy="269.15" r="1.45" fill="#e8164f"/>
<circle cx="432.7" cy="130.05" r="1.45" fill="#3fe38c"/>
<circle cx="431.4" cy="178.20" r="1.45" fill="#3fe38c"/>
<circle cx="411.0" cy="49.80" r="1.45" fill="#e8164f"/>
<circle cx="419.2" cy="231.70" r="1.45" fill="#e8164f"/>
<circle cx="414.8" cy="263.80" r="1.45" fill="#3fe38c"/>
<circle cx="412.5" cy="338.70" r="1.45" fill="#3fe38c"/>
<circle cx="424.7" cy="130.05" r="1.45" fill="#3fe38c"/>
<circle cx="426.0" cy="274.50" r="1.45" fill="#e8164f"/>
<circle cx="415.2" cy="92.60" r="1.45" fill="#e8164f"/>
<circle cx="407.3" cy="81.90" r="1.45" fill="#e8164f"/>
<circle cx="427.3" cy="103.30" r="1.45" fill="#3fe38c"/>
<circle cx="411.2" cy="285.20" r="1.45" fill="#3fe38c"/>
<circle cx="431.4" cy="269.15" r="1.45" fill="#3fe38c"/>
<circle cx="420.6" cy="188.90" r="1.45" fill="#e8164f"/>
<circle cx="415.2" cy="221.00" r="1.45" fill="#3fe38c"/>
<circle cx="409.8" cy="103.30" r="1.45" fill="#e8164f"/>
<circle cx="394.1" cy="108.65" r="1.45" fill="#e8164f"/>
<circle cx="425.7" cy="188.90" r="1.45" fill="#e8164f"/>
<circle cx="397.2" cy="28.40" r="1.45" fill="#e8164f"/>
<circle cx="420.5" cy="71.20" r="1.45" fill="#3fe38c"/>
<circle cx="417.9" cy="146.10" r="1.45" fill="#e8164f"/>
<circle cx="440.8" cy="306.60" r="1.45" fill="#e8164f"/>
<circle cx="420.6" cy="97.95" r="1.45" fill="#e8164f"/>
<circle cx="429.5" cy="237.05" r="1.45" fill="#3fe38c"/>
<circle cx="426.5" cy="92.60" r="1.45" fill="#3fe38c"/>
<circle cx="437.2" cy="311.95" r="1.45" fill="#e8164f"/>
<circle cx="419.2" cy="146.10" r="1.45" fill="#3fe38c"/>
<circle cx="415.3" cy="295.90" r="1.45" fill="#3fe38c"/>
<circle cx="423.5" cy="60.50" r="1.45" fill="#e8164f"/>
<circle cx="440.8" cy="301.25" r="1.45" fill="#e8164f"/>
<circle cx="462.3" cy="333.35" r="1.45" fill="#e8164f"/>
<circle cx="413.6" cy="65.85" r="1.45" fill="#e8164f"/>
<circle cx="411.2" cy="140.75" r="1.45" fill="#e8164f"/>
<circle cx="436.7" cy="274.50" r="1.45" fill="#e8164f"/>
<circle cx="424.6" cy="108.65" r="1.45" fill="#e8164f"/>
<circle cx="424.5" cy="215.65" r="1.45" fill="#3fe38c"/>
<circle cx="421.0" cy="194.25" r="1.45" fill="#3fe38c"/>
<circle cx="399.0" cy="92.60" r="1.45" fill="#e8164f"/>
<circle cx="423.3" cy="114.00" r="1.45" fill="#e8164f"/>
<circle cx="475.8" cy="328.00" r="1.45" fill="#e8164f"/>
<circle cx="416.5" cy="317.30" r="1.45" fill="#3fe38c"/>
<circle cx="436.7" cy="290.55" r="1.45" fill="#e8164f"/>
<circle cx="435.1" cy="322.65" r="1.45" fill="#e8164f"/>
<circle cx="428.6" cy="71.20" r="1.45" fill="#3fe38c"/>
<circle cx="408.0" cy="39.10" r="1.45" fill="#e8164f"/>
<circle cx="422.3" cy="60.50" r="1.45" fill="#3fe38c"/>
<circle cx="407.9" cy="215.65" r="1.45" fill="#3fe38c"/>
<circle cx="418.3" cy="295.90" r="1.45" fill="#3fe38c"/>
<circle cx="432.7" cy="237.05" r="1.45" fill="#3fe38c"/>
<circle cx="432.7" cy="231.70" r="1.45" fill="#e8164f"/>
<circle cx="434.0" cy="172.85" r="1.45" fill="#3fe38c"/>
<circle cx="412.5" cy="295.90" r="1.45" fill="#3fe38c"/>
<circle cx="423.7" cy="124.70" r="1.45" fill="#3fe38c"/>
<circle cx="415.3" cy="87.25" r="1.45" fill="#e8164f"/>
<circle cx="408.7" cy="76.55" r="1.45" fill="#e8164f"/>
<circle cx="416.9" cy="167.50" r="1.45" fill="#e8164f"/>
<circle cx="431.7" cy="108.65" r="1.45" fill="#3fe38c"/>
<circle cx="438.6" cy="81.90" r="1.45" fill="#3fe38c"/>
<circle cx="452.9" cy="338.70" r="1.45" fill="#e8164f"/>
<circle cx="424.5" cy="210.30" r="1.45" fill="#3fe38c"/>
<circle cx="423.3" cy="322.65" r="1.45" fill="#3fe38c"/>
<circle cx="427.1" cy="81.90" r="1.45" fill="#3fe38c"/>
<circle cx="487.9" cy="338.70" r="1.45" fill="#e8164f"/>
<circle cx="413.4" cy="247.75" r="1.45" fill="#3fe38c"/>
<circle cx="413.9" cy="97.95" r="1.45" fill="#3fe38c"/>
<circle cx="397.3" cy="108.65" r="1.45" fill="#e8164f"/>
<circle cx="407.1" cy="119.35" r="1.45" fill="#e8164f"/>
<circle cx="431.8" cy="253.10" r="1.45" fill="#e8164f"/>
<circle cx="414.2" cy="49.80" r="1.45" fill="#e8164f"/>
<circle cx="426.2" cy="215.65" r="1.45" fill="#e8164f"/>
<circle cx="413.9" cy="215.65" r="1.45" fill="#e8164f"/>
<circle cx="412.5" cy="306.60" r="1.45" fill="#3fe38c"/>
<circle cx="427.3" cy="226.35" r="1.45" fill="#e8164f"/>
<circle cx="427.1" cy="231.70" r="1.45" fill="#e8164f"/>
<circle cx="431.9" cy="167.50" r="1.45" fill="#3fe38c"/>
<circle cx="430.7" cy="55.15" r="1.45" fill="#3fe38c"/>
<circle cx="416.5" cy="279.85" r="1.45" fill="#3fe38c"/>
<circle cx="421.9" cy="156.80" r="1.45" fill="#e8164f"/>
<circle cx="421.0" cy="114.00" r="1.45" fill="#e8164f"/>
<circle cx="431.4" cy="263.80" r="1.45" fill="#e8164f"/>
<circle cx="432.7" cy="183.55" r="1.45" fill="#e8164f"/>
<circle cx="474.2" cy="338.70" r="1.45" fill="#e8164f"/>
<circle cx="423.5" cy="39.10" r="1.45" fill="#e8164f"/>
<circle cx="424.6" cy="247.75" r="1.45" fill="#3fe38c"/>
<circle cx="423.1" cy="71.20" r="1.45" fill="#3fe38c"/>
<circle cx="414.3" cy="140.75" r="1.45" fill="#e8164f"/>
<circle cx="407.1" cy="146.10" r="1.45" fill="#3fe38c"/>
<circle cx="416.5" cy="215.65" r="1.45" fill="#3fe38c"/>
<circle cx="437.7" cy="253.10" r="1.45" fill="#e8164f"/>
<circle cx="454.2" cy="274.50" r="1.45" fill="#e8164f"/>
<circle cx="424.6" cy="194.25" r="1.45" fill="#3fe38c"/>
<circle cx="417.9" cy="242.40" r="1.45" fill="#e8164f"/>
<circle cx="438.4" cy="306.60" r="1.45" fill="#e8164f"/>
<circle cx="427.3" cy="215.65" r="1.45" fill="#3fe38c"/>
<circle cx="421.9" cy="231.70" r="1.45" fill="#3fe38c"/>
<circle cx="417.0" cy="199.60" r="1.45" fill="#3fe38c"/>
<circle cx="424.1" cy="103.30" r="1.45" fill="#3fe38c"/>
<circle cx="418.7" cy="194.25" r="1.45" fill="#e8164f"/>
<circle cx="410.7" cy="65.85" r="1.45" fill="#e8164f"/>
<circle cx="427.3" cy="301.25" r="1.45" fill="#e8164f"/>
<circle cx="429.4" cy="306.60" r="1.45" fill="#e8164f"/>
<circle cx="421.9" cy="295.90" r="1.45" fill="#e8164f"/>
<circle cx="425.5" cy="258.45" r="1.45" fill="#e8164f"/>
<circle cx="418.6" cy="81.90" r="1.45" fill="#3fe38c"/>
<circle cx="436.8" cy="247.75" r="1.45" fill="#e8164f"/>
<circle cx="409.8" cy="167.50" r="1.45" fill="#3fe38c"/>
<circle cx="435.6" cy="87.25" r="1.45" fill="#3fe38c"/>
<circle cx="404.4" cy="172.85" r="1.45" fill="#3fe38c"/>
<circle cx="423.3" cy="333.35" r="1.45" fill="#e8164f"/>
<circle cx="415.4" cy="33.75" r="1.45" fill="#e8164f"/>
<circle cx="414.2" cy="44.45" r="1.45" fill="#e8164f"/>
<circle cx="414.9" cy="311.95" r="1.45" fill="#3fe38c"/>
<circle cx="409.9" cy="33.75" r="1.45" fill="#e8164f"/>
<circle cx="416.4" cy="210.30" r="1.45" fill="#e8164f"/>
<circle cx="413.9" cy="81.90" r="1.45" fill="#e8164f"/>
<circle cx="415.2" cy="194.25" r="1.45" fill="#3fe38c"/>
<circle cx="428.7" cy="108.65" r="1.45" fill="#e8164f"/>
<circle cx="424.6" cy="226.35" r="1.45" fill="#3fe38c"/>
<circle cx="401.6" cy="97.95" r="1.45" fill="#e8164f"/>
<circle cx="410.9" cy="39.10" r="1.45" fill="#e8164f"/>
<circle cx="415.4" cy="151.45" r="1.45" fill="#e8164f"/>
<circle cx="444.8" cy="210.30" r="1.45" fill="#e8164f"/>
<circle cx="418.2" cy="103.30" r="1.45" fill="#e8164f"/>
<circle cx="413.9" cy="108.65" r="1.45" fill="#3fe38c"/>
<circle cx="430.5" cy="39.10" r="1.45" fill="#3fe38c"/>
<circle cx="421.9" cy="103.30" r="1.45" fill="#3fe38c"/>
<circle cx="423.9" cy="81.90" r="1.45" fill="#3fe38c"/>
<circle cx="424.8" cy="279.85" r="1.45" fill="#e8164f"/>
<circle cx="438.1" cy="188.90" r="1.45" fill="#3fe38c"/>
<circle cx="421.2" cy="242.40" r="1.45" fill="#e8164f"/>
<circle cx="429.4" cy="28.40" r="1.45" fill="#3fe38c"/>
<circle cx="418.9" cy="295.90" r="1.45" fill="#e8164f"/>
<circle cx="424.6" cy="65.85" r="1.45" fill="#e8164f"/>
<circle cx="428.1" cy="226.35" r="1.45" fill="#3fe38c"/>
<circle cx="434.0" cy="226.35" r="1.45" fill="#e8164f"/>
<circle cx="399.2" cy="49.80" r="1.45" fill="#e8164f"/>
<circle cx="465.0" cy="258.45" r="1.45" fill="#e8164f"/>
<circle cx="409.8" cy="210.30" r="1.45" fill="#3fe38c"/>
<circle cx="415.3" cy="172.85" r="1.45" fill="#e8164f"/>
<circle cx="408.5" cy="167.50" r="1.45" fill="#e8164f"/>
<circle cx="426.0" cy="295.90" r="1.45" fill="#3fe38c"/>
<circle cx="433.5" cy="258.45" r="1.45" fill="#e8164f"/>
<circle cx="410.9" cy="76.55" r="1.45" fill="#e8164f"/>
<circle cx="420.1" cy="162.15" r="1.45" fill="#e8164f"/>
<circle cx="427.3" cy="274.50" r="1.45" fill="#3fe38c"/>
<circle cx="435.4" cy="178.20" r="1.45" fill="#3fe38c"/>
<circle cx="419.1" cy="204.95" r="1.45" fill="#e8164f"/>
<circle cx="430.4" cy="87.25" r="1.45" fill="#3fe38c"/>
<circle cx="431.4" cy="156.80" r="1.45" fill="#3fe38c"/>
<circle cx="424.2" cy="199.60" r="1.45" fill="#e8164f"/>
<circle cx="435.1" cy="215.65" r="1.45" fill="#e8164f"/>
<circle cx="418.2" cy="237.05" r="1.45" fill="#3fe38c"/>
<circle cx="417.9" cy="290.55" r="1.45" fill="#3fe38c"/>
<circle cx="423.3" cy="92.60" r="1.45" fill="#3fe38c"/>
<circle cx="412.3" cy="33.75" r="1.45" fill="#e8164f"/>
<circle cx="446.7" cy="285.20" r="1.45" fill="#e8164f"/>
<circle cx="430.0" cy="258.45" r="1.45" fill="#3fe38c"/>
<circle cx="420.6" cy="237.05" r="1.45" fill="#e8164f"/>
<circle cx="428.5" cy="263.80" r="1.45" fill="#e8164f"/>
<circle cx="427.3" cy="183.55" r="1.45" fill="#e8164f"/>
<circle cx="423.0" cy="76.55" r="1.45" fill="#3fe38c"/>
<circle cx="427.3" cy="146.10" r="1.45" fill="#3fe38c"/>
<circle cx="424.6" cy="242.40" r="1.45" fill="#3fe38c"/>
<circle cx="364.0" cy="81.90" r="1.45" fill="#e8164f"/>
<circle cx="405.8" cy="183.55" r="1.45" fill="#e8164f"/>
<circle cx="463.7" cy="328.00" r="1.45" fill="#e8164f"/>
<circle cx="461.0" cy="274.50" r="1.45" fill="#e8164f"/>
<circle cx="432.5" cy="87.25" r="1.45" fill="#3fe38c"/>
<circle cx="423.1" cy="65.85" r="1.45" fill="#3fe38c"/>
<circle cx="440.5" cy="263.80" r="1.45" fill="#e8164f"/>
<circle cx="408.0" cy="108.65" r="1.45" fill="#e8164f"/>
<circle cx="404.4" cy="108.65" r="1.45" fill="#e8164f"/>
<circle cx="422.2" cy="194.25" r="1.45" fill="#e8164f"/>
<circle cx="427.3" cy="258.45" r="1.45" fill="#3fe38c"/>
<circle cx="432.4" cy="215.65" r="1.45" fill="#e8164f"/>
<circle cx="424.6" cy="306.60" r="1.45" fill="#3fe38c"/>
<circle cx="442.1" cy="274.50" r="1.45" fill="#e8164f"/>
<circle cx="426.0" cy="221.00" r="1.45" fill="#e8164f"/>
<circle cx="424.9" cy="328.00" r="1.45" fill="#3fe38c"/>
<circle cx="426.7" cy="338.70" r="1.45" fill="#3fe38c"/>
<circle cx="458.3" cy="226.35" r="1.45" fill="#e8164f"/>
<circle cx="431.4" cy="274.50" r="1.45" fill="#e8164f"/>
<circle cx="448.9" cy="328.00" r="1.45" fill="#e8164f"/>
<circle cx="421.8" cy="108.65" r="1.45" fill="#3fe38c"/>
<circle cx="406.1" cy="76.55" r="1.45" fill="#e8164f"/>
<circle cx="440.8" cy="311.95" r="1.45" fill="#e8164f"/>
<circle cx="407.1" cy="226.35" r="1.45" fill="#e8164f"/>
<circle cx="431.4" cy="226.35" r="1.45" fill="#3fe38c"/>
<circle cx="424.6" cy="146.10" r="1.45" fill="#e8164f"/>
<circle cx="434.6" cy="242.40" r="1.45" fill="#e8164f"/>
<circle cx="400.9" cy="151.45" r="1.45" fill="#e8164f"/>
<circle cx="437.8" cy="269.15" r="1.45" fill="#e8164f"/>
<circle cx="428.3" cy="114.00" r="1.45" fill="#3fe38c"/>
<circle cx="415.2" cy="71.20" r="1.45" fill="#3fe38c"/>
<circle cx="431.4" cy="317.30" r="1.45" fill="#3fe38c"/>
<circle cx="440.8" cy="231.70" r="1.45" fill="#e8164f"/>
<circle cx="405.0" cy="49.80" r="1.45" fill="#e8164f"/>
<circle cx="424.9" cy="231.70" r="1.45" fill="#e8164f"/>
<circle cx="403.8" cy="28.40" r="1.45" fill="#e8164f"/>
<circle cx="419.7" cy="274.50" r="1.45" fill="#e8164f"/>
<circle cx="424.1" cy="285.20" r="1.45" fill="#e8164f"/>
<circle cx="412.5" cy="130.05" r="1.45" fill="#e8164f"/>
<circle cx="424.6" cy="172.85" r="1.45" fill="#3fe38c"/>
<circle cx="400.4" cy="87.25" r="1.45" fill="#e8164f"/>
<circle cx="430.4" cy="55.15" r="1.45" fill="#e8164f"/>
<circle cx="427.3" cy="311.95" r="1.45" fill="#3fe38c"/>
<circle cx="400.4" cy="44.45" r="1.45" fill="#e8164f"/>
<circle cx="420.6" cy="151.45" r="1.45" fill="#3fe38c"/>
<circle cx="438.1" cy="231.70" r="1.45" fill="#3fe38c"/>
<circle cx="411.9" cy="55.15" r="1.45" fill="#e8164f"/>
<circle cx="404.4" cy="194.25" r="1.45" fill="#e8164f"/>
<circle cx="424.5" cy="237.05" r="1.45" fill="#3fe38c"/>
<circle cx="440.8" cy="221.00" r="1.45" fill="#e8164f"/>
<circle cx="428.7" cy="119.35" r="1.45" fill="#3fe38c"/>
<circle cx="427.8" cy="328.00" r="1.45" fill="#3fe38c"/>
<circle cx="404.2" cy="119.35" r="1.45" fill="#e8164f"/>
<circle cx="424.1" cy="135.40" r="1.45" fill="#e8164f"/>
<circle cx="406.2" cy="55.15" r="1.45" fill="#e8164f"/>
<circle cx="405.8" cy="130.05" r="1.45" fill="#e8164f"/>
<circle cx="411.2" cy="231.70" r="1.45" fill="#3fe38c"/>
<circle cx="420.0" cy="55.15" r="1.45" fill="#3fe38c"/>
<circle cx="424.6" cy="247.75" r="1.45" fill="#e8164f"/>
<circle cx="428.2" cy="65.85" r="1.45" fill="#3fe38c"/>
<circle cx="421.4" cy="253.10" r="1.45" fill="#3fe38c"/>
<circle cx="456.9" cy="237.05" r="1.45" fill="#e8164f"/>
<circle cx="432.7" cy="55.15" r="1.45" fill="#3fe38c"/>
<circle cx="419.2" cy="221.00" r="1.45" fill="#e8164f"/>
<circle cx="412.5" cy="317.30" r="1.45" fill="#3fe38c"/>
<circle cx="435.4" cy="290.55" r="1.45" fill="#3fe38c"/>
<circle cx="412.5" cy="237.05" r="1.45" fill="#3fe38c"/>
<circle cx="437.7" cy="295.90" r="1.45" fill="#e8164f"/>
<circle cx="409.8" cy="253.10" r="1.45" fill="#3fe38c"/>
<circle cx="433.2" cy="33.75" r="1.45" fill="#3fe38c"/>
<circle cx="456.9" cy="328.00" r="1.45" fill="#e8164f"/>
<circle cx="423.3" cy="258.45" r="1.45" fill="#e8164f"/>
<circle cx="438.1" cy="215.65" r="1.45" fill="#e8164f"/>
<circle cx="431.4" cy="188.90" r="1.45" fill="#e8164f"/>
<circle cx="431.4" cy="71.20" r="1.45" fill="#3fe38c"/>
<circle cx="408.8" cy="183.55" r="1.45" fill="#e8164f"/>
<circle cx="401.7" cy="81.90" r="1.45" fill="#e8164f"/>
<circle cx="404.4" cy="328.00" r="1.45" fill="#e8164f"/>
<circle cx="423.7" cy="39.10" r="1.45" fill="#3fe38c"/>
<circle cx="410.9" cy="60.50" r="1.45" fill="#e8164f"/>
<circle cx="434.0" cy="311.95" r="1.45" fill="#3fe38c"/>
<circle cx="421.5" cy="269.15" r="1.45" fill="#e8164f"/>
<circle cx="421.2" cy="33.75" r="1.45" fill="#3fe38c"/>
<circle cx="430.0" cy="263.80" r="1.45" fill="#3fe38c"/>
<circle cx="417.9" cy="311.95" r="1.45" fill="#3fe38c"/>
<circle cx="416.5" cy="247.75" r="1.45" fill="#3fe38c"/>
<circle cx="424.9" cy="87.25" r="1.45" fill="#3fe38c"/>
<circle cx="424.6" cy="322.65" r="1.45" fill="#e8164f"/>
<circle cx="422.7" cy="210.30" r="1.45" fill="#e8164f"/>
<circle cx="426.3" cy="242.40" r="1.45" fill="#e8164f"/>
<circle cx="421.7" cy="333.35" r="1.45" fill="#3fe38c"/>
<circle cx="395.0" cy="87.25" r="1.45" fill="#e8164f"/>
<circle cx="414.5" cy="146.10" r="1.45" fill="#e8164f"/>
<circle cx="412.5" cy="87.25" r="1.45" fill="#e8164f"/>
<circle cx="443.5" cy="311.95" r="1.45" fill="#e8164f"/>
<circle cx="411.3" cy="167.50" r="1.45" fill="#e8164f"/>
<circle cx="428.3" cy="194.25" r="1.45" fill="#e8164f"/>
<circle cx="430.0" cy="274.50" r="1.45" fill="#3fe38c"/>
<circle cx="412.8" cy="92.60" r="1.45" fill="#3fe38c"/>
<circle cx="433.9" cy="247.75" r="1.45" fill="#e8164f"/>
<circle cx="424.7" cy="269.15" r="1.45" fill="#e8164f"/>
<circle cx="434.0" cy="306.60" r="1.45" fill="#3fe38c"/>
<circle cx="397.7" cy="119.35" r="1.45" fill="#e8164f"/>
<circle cx="412.7" cy="156.80" r="1.45" fill="#e8164f"/>
<circle cx="423.3" cy="156.80" r="1.45" fill="#3fe38c"/>
<circle cx="407.3" cy="33.75" r="1.45" fill="#e8164f"/>
<circle cx="422.1" cy="199.60" r="1.45" fill="#3fe38c"/>
<circle cx="416.5" cy="44.45" r="1.45" fill="#3fe38c"/>
<circle cx="427.3" cy="269.15" r="1.45" fill="#e8164f"/>
<circle cx="392.3" cy="199.60" r="1.45" fill="#e8164f"/>
<circle cx="438.1" cy="87.25" r="1.45" fill="#3fe38c"/>
<circle cx="450.5" cy="338.70" r="1.45" fill="#e8164f"/>
<circle cx="473.1" cy="333.35" r="1.45" fill="#e8164f"/>
<circle cx="426.0" cy="65.85" r="1.45" fill="#3fe38c"/>
<circle cx="426.7" cy="28.40" r="1.45" fill="#3fe38c"/>
<circle cx="412.5" cy="242.40" r="1.45" fill="#3fe38c"/>
<circle cx="421.9" cy="130.05" r="1.45" fill="#3fe38c"/>
<circle cx="424.6" cy="108.65" r="1.45" fill="#3fe38c"/>
<circle cx="440.8" cy="237.05" r="1.45" fill="#e8164f"/>
<circle cx="447.9" cy="338.70" r="1.45" fill="#e8164f"/>
<circle cx="459.6" cy="338.70" r="1.45" fill="#e8164f"/>
<circle cx="415.0" cy="338.70" r="1.45" fill="#3fe38c"/>
<circle cx="428.0" cy="306.60" r="1.45" fill="#3fe38c"/>
<circle cx="407.1" cy="172.85" r="1.45" fill="#e8164f"/>
<circle cx="414.7" cy="28.40" r="1.45" fill="#3fe38c"/>
<circle cx="424.6" cy="338.70" r="1.45" fill="#e8164f"/>
<circle cx="382.3" cy="183.55" r="1.45" fill="#e8164f"/>
<circle cx="431.4" cy="114.00" r="1.45" fill="#3fe38c"/>
<circle cx="416.5" cy="162.15" r="1.45" fill="#3fe38c"/>
<circle cx="436.2" cy="39.10" r="1.45" fill="#3fe38c"/>
<circle cx="397.7" cy="124.70" r="1.45" fill="#e8164f"/>
<circle cx="403.1" cy="167.50" r="1.45" fill="#e8164f"/>
<circle cx="449.8" cy="253.10" r="1.45" fill="#e8164f"/>
<circle cx="420.0" cy="167.50" r="1.45" fill="#e8164f"/>
<circle cx="417.9" cy="183.55" r="1.45" fill="#e8164f"/>
<circle cx="417.9" cy="135.40" r="1.45" fill="#e8164f"/>
<circle cx="420.9" cy="28.40" r="1.45" fill="#3fe38c"/>
<circle cx="421.3" cy="328.00" r="1.45" fill="#3fe38c"/>
<circle cx="429.4" cy="338.70" r="1.45" fill="#3fe38c"/>
<circle cx="420.6" cy="92.60" r="1.45" fill="#3fe38c"/>
<circle cx="404.4" cy="103.30" r="1.45" fill="#3fe38c"/>
<circle cx="436.7" cy="221.00" r="1.45" fill="#e8164f"/>
<circle cx="435.0" cy="44.45" r="1.45" fill="#3fe38c"/>
<circle cx="413.1" cy="151.45" r="1.45" fill="#e8164f"/>
<circle cx="427.3" cy="124.70" r="1.45" fill="#3fe38c"/>
<circle cx="423.1" cy="274.50" r="1.45" fill="#e8164f"/>
<circle cx="434.0" cy="146.10" r="1.45" fill="#3fe38c"/>
<circle cx="434.0" cy="311.95" r="1.45" fill="#e8164f"/>
<circle cx="400.4" cy="194.25" r="1.45" fill="#e8164f"/>
<circle cx="415.4" cy="306.60" r="1.45" fill="#3fe38c"/>
<circle cx="407.3" cy="60.50" r="1.45" fill="#e8164f"/>
<circle cx="421.2" cy="49.80" r="1.45" fill="#3fe38c"/>
<circle cx="361.3" cy="92.60" r="1.45" fill="#e8164f"/>
<circle cx="429.5" cy="210.30" r="1.45" fill="#e8164f"/>
<circle cx="415.0" cy="130.05" r="1.45" fill="#e8164f"/>
<circle cx="427.3" cy="285.20" r="1.45" fill="#e8164f"/>
<circle cx="387.7" cy="55.15" r="1.45" fill="#e8164f"/>
<circle cx="423.5" cy="28.40" r="1.45" fill="#e8164f"/>
<circle cx="424.5" cy="333.35" r="1.45" fill="#3fe38c"/>
<circle cx="418.6" cy="49.80" r="1.45" fill="#3fe38c"/>
<circle cx="444.8" cy="322.65" r="1.45" fill="#e8164f"/>
<circle cx="421.8" cy="199.60" r="1.45" fill="#e8164f"/>
<circle cx="427.4" cy="87.25" r="1.45" fill="#3fe38c"/>
<circle cx="430.0" cy="290.55" r="1.45" fill="#e8164f"/>
<circle cx="419.0" cy="108.65" r="1.45" fill="#3fe38c"/>
<circle cx="413.9" cy="178.20" r="1.45" fill="#3fe38c"/>
<circle cx="417.9" cy="119.35" r="1.45" fill="#3fe38c"/>
<circle cx="404.4" cy="114.00" r="1.45" fill="#3fe38c"/>
<circle cx="442.1" cy="338.70" r="1.45" fill="#e8164f"/>
<circle cx="413.9" cy="162.15" r="1.45" fill="#3fe38c"/>
<circle cx="418.2" cy="242.40" r="1.45" fill="#3fe38c"/>
<circle cx="419.6" cy="199.60" r="1.45" fill="#3fe38c"/>
<circle cx="446.6" cy="253.10" r="1.45" fill="#e8164f"/>
<circle cx="463.7" cy="338.70" r="1.45" fill="#e8164f"/>
<circle cx="432.7" cy="301.25" r="1.45" fill="#3fe38c"/>
<circle cx="432.0" cy="210.30" r="1.45" fill="#e8164f"/>
<circle cx="435.3" cy="295.90" r="1.45" fill="#e8164f"/>
<circle cx="423.7" cy="301.25" r="1.45" fill="#e8164f"/>
<circle cx="405.8" cy="71.20" r="1.45" fill="#e8164f"/>
<circle cx="422.8" cy="215.65" r="1.45" fill="#e8164f"/>
<circle cx="411.2" cy="124.70" r="1.45" fill="#e8164f"/>
<circle cx="414.1" cy="231.70" r="1.45" fill="#3fe38c"/>
<circle cx="429.4" cy="242.40" r="1.45" fill="#e8164f"/>
<circle cx="432.7" cy="103.30" r="1.45" fill="#3fe38c"/>
<circle cx="419.6" cy="258.45" r="1.45" fill="#3fe38c"/>
<circle cx="415.8" cy="242.40" r="1.45" fill="#3fe38c"/>
<circle cx="415.4" cy="333.35" r="1.45" fill="#3fe38c"/>
<circle cx="416.1" cy="33.75" r="1.45" fill="#3fe38c"/>
<circle cx="405.0" cy="39.10" r="1.45" fill="#e8164f"/>
<circle cx="427.3" cy="130.05" r="1.45" fill="#3fe38c"/>
<circle cx="428.1" cy="33.75" r="1.45" fill="#3fe38c"/>
<circle cx="417.9" cy="178.20" r="1.45" fill="#e8164f"/>
<circle cx="438.1" cy="140.75" r="1.45" fill="#3fe38c"/>
<circle cx="397.7" cy="97.95" r="1.45" fill="#e8164f"/>
<circle cx="423.1" cy="306.60" r="1.45" fill="#e8164f"/>
<circle cx="429.1" cy="237.05" r="1.45" fill="#e8164f"/>
<circle cx="419.8" cy="215.65" r="1.45" fill="#e8164f"/>
<circle cx="434.0" cy="151.45" r="1.45" fill="#3fe38c"/>
<circle cx="391.0" cy="108.65" r="1.45" fill="#e8164f"/>
<circle cx="439.4" cy="247.75" r="1.45" fill="#e8164f"/>
<circle cx="415.8" cy="156.80" r="1.45" fill="#e8164f"/>
<circle cx="408.5" cy="290.55" r="1.45" fill="#3fe38c"/>
<circle cx="429.6" cy="162.15" r="1.45" fill="#3fe38c"/>
<circle cx="428.7" cy="108.65" r="1.45" fill="#3fe38c"/>
<circle cx="404.4" cy="97.95" r="1.45" fill="#e8164f"/>
<circle cx="411.0" cy="44.45" r="1.45" fill="#e8164f"/>
<circle cx="411.2" cy="135.40" r="1.45" fill="#e8164f"/>
<circle cx="432.6" cy="92.60" r="1.45" fill="#3fe38c"/>
<circle cx="426.0" cy="71.20" r="1.45" fill="#e8164f"/>
<circle cx="400.4" cy="124.70" r="1.45" fill="#3fe38c"/>
<circle cx="438.1" cy="322.65" r="1.45" fill="#e8164f"/>
<circle cx="428.0" cy="247.75" r="1.45" fill="#e8164f"/>
<circle cx="424.6" cy="44.45" r="1.45" fill="#3fe38c"/>
<circle cx="432.7" cy="81.90" r="1.45" fill="#3fe38c"/>
<circle cx="430.0" cy="285.20" r="1.45" fill="#3fe38c"/>
<circle cx="420.5" cy="140.75" r="1.45" fill="#3fe38c"/>
<circle cx="422.2" cy="204.95" r="1.45" fill="#e8164f"/>
<circle cx="425.0" cy="258.45" r="1.45" fill="#3fe38c"/>
<circle cx="417.5" cy="172.85" r="1.45" fill="#e8164f"/>
<circle cx="400.1" cy="28.40" r="1.45" fill="#e8164f"/>
<circle cx="418.0" cy="221.00" r="1.45" fill="#3fe38c"/>
<circle cx="413.9" cy="76.55" r="1.45" fill="#e8164f"/>
<circle cx="420.5" cy="135.40" r="1.45" fill="#e8164f"/>
<circle cx="423.5" cy="55.15" r="1.45" fill="#3fe38c"/>
<circle cx="412.4" cy="114.00" r="1.45" fill="#e8164f"/>
<circle cx="413.9" cy="279.85" r="1.45" fill="#3fe38c"/>
<circle cx="431.5" cy="60.50" r="1.45" fill="#3fe38c"/>
<circle cx="432.7" cy="135.40" r="1.45" fill="#3fe38c"/>
<circle cx="429.2" cy="60.50" r="1.45" fill="#e8164f"/>
<circle cx="415.2" cy="290.55" r="1.45" fill="#e8164f"/>
<circle cx="426.2" cy="33.75" r="1.45" fill="#3fe38c"/>
<circle cx="423.3" cy="140.75" r="1.45" fill="#3fe38c"/>
<circle cx="398.1" cy="55.15" r="1.45" fill="#e8164f"/>
<circle cx="430.0" cy="210.30" r="1.45" fill="#3fe38c"/>
<circle cx="418.1" cy="97.95" r="1.45" fill="#e8164f"/>
<circle cx="423.2" cy="311.95" r="1.45" fill="#e8164f"/>
<circle cx="424.8" cy="49.80" r="1.45" fill="#3fe38c"/>
<circle cx="423.3" cy="146.10" r="1.45" fill="#3fe38c"/>
<circle cx="420.6" cy="65.85" r="1.45" fill="#3fe38c"/>
<circle cx="413.9" cy="167.50" r="1.45" fill="#e8164f"/>
<circle cx="436.4" cy="317.30" r="1.45" fill="#e8164f"/>
<circle cx="427.2" cy="237.05" r="1.45" fill="#3fe38c"/>
<circle cx="421.9" cy="263.80" r="1.45" fill="#e8164f"/>
<circle cx="431.8" cy="242.40" r="1.45" fill="#e8164f"/>
<circle cx="424.6" cy="253.10" r="1.45" fill="#3fe38c"/>
<circle cx="408.5" cy="87.25" r="1.45" fill="#e8164f"/>
<rect x="353.7" y="25.4" width="140.4" height="316.5" fill="none" stroke="#111" stroke-width="1.5"/>
<line x1="353.60" y1="341.90" x2="353.60" y2="345.50" stroke="#000" stroke-width="1.2"/>
<text x="353.60" y="354.74" font-size="8.0" text-anchor="middle" fill="#222" stroke="#222" stroke-width="0.18" >−10</text>
<line x1="388.60" y1="341.90" x2="388.60" y2="345.50" stroke="#000" stroke-width="1.2"/>
<text x="388.60" y="354.74" font-size="8.0" text-anchor="middle" fill="#222" stroke="#222" stroke-width="0.18" >−5</text>
<line x1="423.60" y1="341.90" x2="423.60" y2="345.50" stroke="#000" stroke-width="1.2"/>
<text x="423.60" y="354.74" font-size="8.0" text-anchor="middle" fill="#222" stroke="#222" stroke-width="0.18" >0</text>
<line x1="458.60" y1="341.90" x2="458.60" y2="345.50" stroke="#000" stroke-width="1.2"/>
<text x="458.60" y="354.74" font-size="8.0" text-anchor="middle" fill="#222" stroke="#222" stroke-width="0.18" >5</text>
<line x1="493.60" y1="341.90" x2="493.60" y2="345.50" stroke="#000" stroke-width="1.2"/>
<text x="493.60" y="354.74" font-size="8.0" text-anchor="middle" fill="#222" stroke="#222" stroke-width="0.18" >10</text>
<text x="427.40" y="364.20" font-size="7.6" text-anchor="middle" fill="#222" stroke="#222" stroke-width="0.18" >Deviation from indolent average</text>
<circle cx="452.6" cy="60.7" r="1.5" fill="#3fe38c"/>
<circle cx="452.6" cy="69.4" r="1.5" fill="#e8164f"/>
<text x="457.40" y="62.93" font-size="7.4" text-anchor="start" fill="#222" stroke="#222" stroke-width="0.18" >Indolent</text>
<text x="457.00" y="71.63" font-size="7.4" text-anchor="start" fill="#222" stroke="#222" stroke-width="0.18" >Advanced</text>
<line x1="51.90" y1="263.10" x2="51.90" y2="390.30" stroke="#000" stroke-width="1.1"/>
<line x1="49.00" y1="390.30" x2="51.90" y2="390.30" stroke="#000" stroke-width="1"/>
<text x="46.00" y="393.00" font-size="7.6" text-anchor="end" fill="#222" stroke="#222" stroke-width="0.18" >0</text>
<line x1="49.00" y1="358.50" x2="51.90" y2="358.50" stroke="#000" stroke-width="1"/>
<text x="46.00" y="361.20" font-size="7.6" text-anchor="end" fill="#222" stroke="#222" stroke-width="0.18" >2</text>
<line x1="49.00" y1="326.70" x2="51.90" y2="326.70" stroke="#000" stroke-width="1"/>
<text x="46.00" y="329.40" font-size="7.6" text-anchor="end" fill="#222" stroke="#222" stroke-width="0.18" >4</text>
<line x1="49.00" y1="294.90" x2="51.90" y2="294.90" stroke="#000" stroke-width="1"/>
<text x="46.00" y="297.60" font-size="7.6" text-anchor="end" fill="#222" stroke="#222" stroke-width="0.18" >6</text>
<line x1="49.00" y1="263.10" x2="51.90" y2="263.10" stroke="#000" stroke-width="1"/>
<text x="46.00" y="265.80" font-size="7.6" text-anchor="end" fill="#222" stroke="#222" stroke-width="0.18" >8</text>
<line x1="56.90" y1="393.30" x2="182.90" y2="393.30" stroke="#000" stroke-width="1.1"/>
<line x1="56.90" y1="393.30" x2="56.90" y2="396.20" stroke="#000" stroke-width="1"/>
<line x1="77.90" y1="393.30" x2="77.90" y2="396.20" stroke="#000" stroke-width="1"/>
<line x1="98.90" y1="393.30" x2="98.90" y2="396.20" stroke="#000" stroke-width="1"/>
<line x1="119.90" y1="393.30" x2="119.90" y2="396.20" stroke="#000" stroke-width="1"/>
<line x1="140.90" y1="393.30" x2="140.90" y2="396.20" stroke="#000" stroke-width="1"/>
<line x1="161.90" y1="393.30" x2="161.90" y2="396.20" stroke="#000" stroke-width="1"/>
<line x1="182.90" y1="393.30" x2="182.90" y2="396.20" stroke="#000" stroke-width="1"/>
<text x="56.90" y="404.30" font-size="7.6" text-anchor="middle" fill="#222" stroke="#222" stroke-width="0.18" >0</text>
<text x="98.90" y="404.30" font-size="7.6" text-anchor="middle" fill="#222" stroke="#222" stroke-width="0.18" >0.10</text>
<text x="140.90" y="404.30" font-size="7.6" text-anchor="middle" fill="#222" stroke="#222" stroke-width="0.18" >0.20</text>
<text x="182.90" y="404.30" font-size="7.6" text-anchor="middle" fill="#222" stroke="#222" stroke-width="0.18" >0.30</text>
<text x="124.00" y="414.93" font-size="7.4" text-anchor="middle" fill="#222" stroke="#222" stroke-width="0.18" >Pathway impact</text>
<text transform="translate(28.3 328.8) rotate(-90)" font-size="7.5" text-anchor="middle" fill="#222">-log10 (p.value)</text>
<circle cx="57.0" cy="364.5" r="1.75" fill="#ef3b0c" stroke="#111" stroke-width="0.8"/>
<circle cx="57.0" cy="368.6" r="1.75" fill="#f5700a" stroke="#111" stroke-width="0.8"/>
<circle cx="57.0" cy="377.3" r="1.5" fill="#f79a0c" stroke="#111" stroke-width="0.8"/>
<circle cx="57.0" cy="380.0" r="1.5" fill="#ffd400" stroke="#111" stroke-width="0.8"/>
<circle cx="57.0" cy="382.7" r="1.5" fill="#ffd400" stroke="#111" stroke-width="0.8"/>
<circle cx="57.0" cy="385.4" r="1.5" fill="#fff34d" stroke="#111" stroke-width="0.8"/>
<circle cx="57.0" cy="387.6" r="1.4" fill="#fff34d" stroke="#111" stroke-width="0.8"/>
<circle cx="68.0" cy="373.4" r="3.0" fill="#f79a0c" stroke="#111" stroke-width="0.9"/>
<circle cx="99.3" cy="376.4" r="4.3" fill="#f79a0c" stroke="#111" stroke-width="0.9"/>
<circle cx="141.4" cy="369.0" r="5.2" fill="#f5700a" stroke="#111" stroke-width="0.9"/>
<circle cx="127.4" cy="370.4" r="4.8" fill="#f5700a" stroke="#111" stroke-width="0.9"/>
<circle cx="76.4" cy="355.9" r="3.3" fill="#ef3b0c" stroke="#111" stroke-width="0.9"/>
<circle cx="80.7" cy="360.7" r="3.3" fill="#ef3b0c" stroke="#111" stroke-width="0.9"/>
<circle cx="81.3" cy="367.9" r="3.3" fill="#f5700a" stroke="#111" stroke-width="0.9"/>
<circle cx="120.9" cy="356.5" r="4.4" fill="#ef3b0c" stroke="#111" stroke-width="0.9"/>
<circle cx="117.3" cy="362.2" r="4.4" fill="#ef3b0c" stroke="#111" stroke-width="0.9"/>
<circle cx="84.9" cy="377.0" r="3.5" fill="#f79a0c" stroke="#111" stroke-width="0.9"/>
<circle cx="87.7" cy="379.5" r="3.7" fill="#ffd400" stroke="#111" stroke-width="0.9"/>
<circle cx="64.8" cy="386.1" r="2.9" fill="#fff34d" stroke="#111" stroke-width="0.9"/>
<circle cx="68.0" cy="383.4" r="2.8" fill="#ffd400" stroke="#111" stroke-width="0.9"/>
<circle cx="73.3" cy="382.3" r="3.1" fill="#ffd400" stroke="#111" stroke-width="0.9"/>
<circle cx="79.0" cy="386.5" r="3.1" fill="#f8f6a8" stroke="#111" stroke-width="0.9"/>
<circle cx="80.7" cy="383.4" r="3.0" fill="#ffd400" stroke="#111" stroke-width="0.9"/>
<circle cx="84.9" cy="384.4" r="3.0" fill="#fff34d" stroke="#111" stroke-width="0.9"/>
<circle cx="89.1" cy="385.5" r="3.1" fill="#fff34d" stroke="#111" stroke-width="0.9"/>
<circle cx="91.3" cy="387.6" r="3.6" fill="#f8f6a8" stroke="#111" stroke-width="0.9"/>
<circle cx="71.2" cy="387.6" r="2.9" fill="#ffffff" stroke="#111" stroke-width="0.9"/>
<circle cx="197.2" cy="247.9" r="6.6" fill="#e3000f" stroke="#111" stroke-width="1.1"/>
<text x="197.20" y="250.53" font-size="7.4" text-anchor="middle" font-weight="bold" fill="#111" stroke="#111" stroke-width="0.12" >1</text>
<circle cx="164.6" cy="265.6" r="6.2" fill="#e3000f" stroke="#111" stroke-width="1.1"/>
<text x="164.60" y="268.23" font-size="7.4" text-anchor="middle" font-weight="bold" fill="#111" stroke="#111" stroke-width="0.12" >2</text>
<circle cx="174.3" cy="292.1" r="6.2" fill="#e3000f" stroke="#111" stroke-width="1.1"/>
<text x="174.30" y="294.73" font-size="7.4" text-anchor="middle" font-weight="bold" fill="#111" stroke="#111" stroke-width="0.12" >3</text>
<circle cx="113.4" cy="315.6" r="4.7" fill="#e3000f" stroke="#111" stroke-width="1.1"/>
<text x="113.40" y="318.01" font-size="6.8" text-anchor="middle" font-weight="bold" fill="#111" stroke="#111" stroke-width="0.12" >4</text>
<circle cx="121.8" cy="317.2" r="4.7" fill="#e3000f" stroke="#111" stroke-width="1.1"/>
<text x="121.80" y="319.61" font-size="6.8" text-anchor="middle" font-weight="bold" fill="#111" stroke="#111" stroke-width="0.12" >5</text>
<circle cx="161.9" cy="321.2" r="5.7" fill="#e3000f" stroke="#111" stroke-width="1.1"/>
<text x="161.90" y="323.83" font-size="7.4" text-anchor="middle" font-weight="bold" fill="#111" stroke="#111" stroke-width="0.12" >6</text>
<circle cx="127.2" cy="339.3" r="5.2" fill="#e3000f" stroke="#111" stroke-width="1.1"/>
<text x="127.20" y="341.71" font-size="6.8" text-anchor="middle" font-weight="bold" fill="#111" stroke="#111" stroke-width="0.12" >7</text>
<text x="194.10" y="231.19" font-size="6.45" text-anchor="middle" fill="#222" stroke="#222" stroke-width="0.18" >Nicotinate</text>
<text x="185.90" y="238.59" font-size="6.45" text-anchor="middle" fill="#222" stroke="#222" stroke-width="0.18" >and nicotinamide</text>
<text x="142.80" y="260.89" font-size="6.45" text-anchor="middle" fill="#222" stroke="#222" stroke-width="0.18" >Pyrimidine</text>
<text x="115.50" y="289.19" font-size="6.45" text-anchor="middle" fill="#222" stroke="#222" stroke-width="0.18" >Amino sugar and</text>
<text x="117.60" y="296.99" font-size="6.45" text-anchor="middle" fill="#222" stroke="#222" stroke-width="0.18" >nucleotide sugar</text>
<text x="184.20" y="293.79" font-size="6.45" text-anchor="start" fill="#222" stroke="#222" stroke-width="0.18" >Purine</text>
<text x="171.60" y="320.69" font-size="6.45" text-anchor="start" fill="#222" stroke="#222" stroke-width="0.18" >Arginine</text>
<text x="171.60" y="328.19" font-size="6.45" text-anchor="start" fill="#222" stroke="#222" stroke-width="0.18" >biosynthesis</text>
<text x="133.60" y="347.09" font-size="6.45" text-anchor="start" fill="#222" stroke="#222" stroke-width="0.18" >One-carbon folate</text>
<text x="54.30" y="326.89" font-size="6.45" text-anchor="start" fill="#222" stroke="#222" stroke-width="0.18" >Glycerophospholipid</text>
<text x="59.60" y="436.00" font-size="8.95" text-anchor="start" font-weight="bold" fill="#111" stroke="#111" stroke-width="0.12" >HumanCyc Biological Processes</text>
<defs><linearGradient id="pk" x1="0" y1="0" x2="0" y2="1"><stop offset="0" stop-color="#b8000e"/><stop offset="0.06" stop-color="#d2001c"/><stop offset="0.12" stop-color="#e0103c"/><stop offset="0.35" stop-color="#e41e5a"/><stop offset="0.55" stop-color="#e85a98"/><stop offset="0.75" stop-color="#f3b4d8"/><stop offset="0.9" stop-color="#fbe6f2"/><stop offset="1" stop-color="#ffffff"/></linearGradient></defs>
<rect x="30.1" y="441.3" width="3.9" height="135.6" fill="url(#pk)" stroke="#111" stroke-width="0.95"/>
<rect x="47.6" y="442.60" width="11.2" height="8.09" fill="#ffffff"/>
<rect x="47.6" y="449.99" width="11.2" height="8.09" fill="#eef3f8"/>
<rect x="47.6" y="457.38" width="11.2" height="8.09" fill="#e4ecf4"/>
<rect x="47.6" y="464.77" width="11.2" height="8.09" fill="#dbe6f0"/>
<rect x="47.6" y="472.16" width="11.2" height="8.09" fill="#d2dfec"/>
<rect x="47.6" y="479.55" width="11.2" height="8.09" fill="#c7d7e7"/>
<rect x="47.6" y="486.94" width="11.2" height="8.09" fill="#bccfe2"/>
<rect x="47.6" y="494.33" width="11.2" height="8.09" fill="#afc5dc"/>
<rect x="47.6" y="501.72" width="11.2" height="8.09" fill="#a2bbd6"/>
<rect x="47.6" y="509.11" width="11.2" height="8.09" fill="#94b0cf"/>
<rect x="47.6" y="516.50" width="11.2" height="8.09" fill="#86a5c8"/>
<rect x="47.6" y="523.89" width="11.2" height="8.09" fill="#7799c0"/>
<rect x="47.6" y="531.28" width="11.2" height="8.09" fill="#688db8"/>
<rect x="47.6" y="538.67" width="11.2" height="8.09" fill="#5a81b0"/>
<rect x="47.6" y="546.06" width="11.2" height="8.09" fill="#4a74a7"/>
<rect x="47.6" y="553.45" width="11.2" height="8.09" fill="#3c679e"/>
<rect x="47.6" y="560.84" width="11.2" height="8.09" fill="#080c4e"/>
<rect x="47.6" y="568.23" width="11.2" height="7.39" fill="#080c4e"/>
<rect x="47.6" y="442.6" width="11.2" height="133.02" fill="none" stroke="#111" stroke-width="1"/>
<line x1="58.80" y1="446.30" x2="61.90" y2="446.30" stroke="#000" stroke-width="1.0"/>
<text x="66.00" y="449.18" font-size="7.0" text-anchor="start" fill="#1a1a1a" stroke="#1a1a1a" stroke-width="0.18" >CMP phosphorylation - 2, 3</text>
<line x1="58.80" y1="453.69" x2="61.90" y2="453.69" stroke="#000" stroke-width="1.0"/>
<text x="66.00" y="456.57" font-size="7.0" text-anchor="start" fill="#1a1a1a" stroke="#1a1a1a" stroke-width="0.18" >Creatine-P biosynthesis</text>
<line x1="58.80" y1="461.08" x2="61.90" y2="461.08" stroke="#000" stroke-width="1.0"/>
<text x="66.00" y="463.96" font-size="7.0" text-anchor="start" fill="#1a1a1a" stroke="#1a1a1a" stroke-width="0.18" >Pyrimidine ribonucleosides salvage - 2, 3</text>
<line x1="58.80" y1="468.47" x2="61.90" y2="468.47" stroke="#000" stroke-width="1.0"/>
<text x="66.00" y="471.35" font-size="7.0" text-anchor="start" fill="#1a1a1a" stroke="#1a1a1a" stroke-width="0.18" >Pentose phosphate pathway</text>
<line x1="58.80" y1="475.86" x2="61.90" y2="475.86" stroke="#000" stroke-width="1.0"/>
<text x="66.00" y="478.74" font-size="7.0" text-anchor="start" fill="#d61f2c" stroke="#d61f2c" stroke-width="0.18" >Protein O-GlcNAcylation - 5</text>
<line x1="58.80" y1="483.25" x2="61.90" y2="483.25" stroke="#000" stroke-width="1.0"/>
<text x="66.00" y="486.13" font-size="7.0" text-anchor="start" fill="#1a1a1a" stroke="#1a1a1a" stroke-width="0.18" >Glycerol degradation - 4</text>
<line x1="58.80" y1="490.63" x2="61.90" y2="490.63" stroke="#000" stroke-width="1.0"/>
<text x="66.00" y="493.52" font-size="7.0" text-anchor="start" fill="#1a1a1a" stroke="#1a1a1a" stroke-width="0.18" >Pyrimidine deoxyribonucleotide phosphorylation - 2, 3</text>
<line x1="58.80" y1="498.03" x2="61.90" y2="498.03" stroke="#000" stroke-width="1.0"/>
<text x="66.00" y="500.91" font-size="7.0" text-anchor="start" fill="#1a1a1a" stroke="#1a1a1a" stroke-width="0.18" >Coenzyme A biosynthesis</text>
<line x1="58.80" y1="505.42" x2="61.90" y2="505.42" stroke="#000" stroke-width="1.0"/>
<text x="66.00" y="508.30" font-size="7.0" text-anchor="start" fill="#1a1a1a" stroke="#1a1a1a" stroke-width="0.18" >Phosphatidylethanolamine biosynthesis - 4</text>
<line x1="58.80" y1="512.81" x2="61.90" y2="512.81" stroke="#000" stroke-width="1.0"/>
<text x="66.00" y="515.69" font-size="7.0" text-anchor="start" fill="#1a1a1a" stroke="#1a1a1a" stroke-width="0.18" >Purine deoxyribonucleosides salvage - 2, 3</text>
<line x1="58.80" y1="520.20" x2="61.90" y2="520.20" stroke="#000" stroke-width="1.0"/>
<text x="66.00" y="523.08" font-size="7.0" text-anchor="start" fill="#1a1a1a" stroke="#1a1a1a" stroke-width="0.18" >Urea cycle - 6</text>
<line x1="58.80" y1="527.59" x2="61.90" y2="527.59" stroke="#000" stroke-width="1.0"/>
<text x="66.00" y="530.47" font-size="7.0" text-anchor="start" fill="#1a1a1a" stroke="#1a1a1a" stroke-width="0.18" >GDP-glucose biosynthesis - 5</text>
<line x1="58.80" y1="534.98" x2="61.90" y2="534.98" stroke="#000" stroke-width="1.0"/>
<text x="66.00" y="537.86" font-size="7.0" text-anchor="start" fill="#1a1a1a" stroke="#1a1a1a" stroke-width="0.18" >Pyridoxal 5’ phosphate</text>
<line x1="58.80" y1="542.37" x2="61.90" y2="542.37" stroke="#000" stroke-width="1.0"/>
<text x="66.00" y="545.25" font-size="7.0" text-anchor="start" fill="#1a1a1a" stroke="#1a1a1a" stroke-width="0.18" >Pyrimidine ribonucleotide de novo biosynthesis - 2, 3</text>
<line x1="58.80" y1="549.75" x2="61.90" y2="549.75" stroke="#000" stroke-width="1.0"/>
<text x="66.00" y="552.64" font-size="7.0" text-anchor="start" fill="#1a1a1a" stroke="#1a1a1a" stroke-width="0.18" >L-Cysteine biosynthesis</text>
<line x1="58.80" y1="557.14" x2="61.90" y2="557.14" stroke="#000" stroke-width="1.0"/>
<text x="66.00" y="560.03" font-size="7.0" text-anchor="start" fill="#d61f2c" stroke="#d61f2c" stroke-width="0.18" >NAD <tspan font-style="italic">de novo</tspan> biosynthesis - 1</text>
<line x1="58.80" y1="564.53" x2="61.90" y2="564.53" stroke="#000" stroke-width="1.0"/>
<text x="66.00" y="567.42" font-size="7.0" text-anchor="start" fill="#1a1a1a" stroke="#1a1a1a" stroke-width="0.18" >Histamine degradation</text>
<line x1="58.80" y1="571.92" x2="61.90" y2="571.92" stroke="#000" stroke-width="1.0"/>
<text x="66.00" y="574.81" font-size="7.0" text-anchor="start" fill="#1a1a1a" stroke="#1a1a1a" stroke-width="0.18" >Ketolysis</text>
<text transform="translate(24.4 509) rotate(-90)" font-size="9.3" text-anchor="middle" fill="#222">Enrichment</text>
<text transform="translate(44.6 506.6) rotate(-90)" font-size="9.1" text-anchor="middle" fill="#222">(R/SI score)</text>
<g fill="#000">
<circle cx="37.2" cy="609.6" r="1.9"/>
<rect x="33.50" y="611.20" width="7.4" height="17.40" rx="2" ry="2"/>
<circle cx="43.5" cy="609.5" r="1.9"/>
<rect x="39.80" y="611.10" width="7.4" height="17.50" rx="2" ry="2"/>
<circle cx="49.9" cy="608.3" r="1.85"/>
<rect x="46.20" y="609.90" width="7.4" height="18.70" rx="2" ry="2"/>
<circle cx="55.4" cy="608.5" r="1.85"/>
<rect x="51.70" y="610.10" width="7.4" height="18.50" rx="2" ry="2"/>
<circle cx="61.7" cy="608.5" r="1.85"/>
<rect x="58.00" y="610.10" width="7.4" height="18.50" rx="2" ry="2"/>
<circle cx="66.9" cy="609.0" r="1.85"/>
<rect x="63.20" y="610.60" width="7.4" height="18.00" rx="2" ry="2"/>
<circle cx="74.4" cy="608.8" r="1.9"/>
<rect x="70.70" y="610.40" width="7.4" height="18.20" rx="2" ry="2"/>
<circle cx="79.3" cy="609.3" r="1.85"/>
<rect x="75.60" y="610.90" width="7.4" height="17.70" rx="2" ry="2"/>
<circle cx="84.0" cy="609.9" r="1.85"/>
<rect x="80.30" y="611.50" width="7.4" height="17.10" rx="2" ry="2"/>
<path d="M34.4 614 L34.6 627 L36 627 Z"/>
</g>
<g fill="#fff">
<rect x="39.5" y="620.8" width="1.2" height="8.00"/>
<rect x="43.5" y="621.2" width="1.0" height="7.60"/>
<rect x="50.0" y="621.0" width="1.0" height="7.80"/>
<rect x="55.3" y="621.2" width="1.0" height="7.60"/>
<rect x="63.5" y="620.6" width="1.0" height="8.20"/>
<rect x="70.0" y="615.6" width="1.4" height="13.20"/>
<rect x="75.3" y="621.2" width="1.2" height="7.60"/>
<rect x="83.0" y="621.0" width="1.0" height="7.80"/>
<rect x="47.0" y="624.5" width="0.6" height="4.30"/>
<rect x="59.0" y="624.0" width="0.6" height="4.80"/>
<rect x="67.0" y="624.5" width="0.6" height="4.30"/>
</g>
<line x1="101.20" y1="620.00" x2="112.20" y2="620.00" stroke="#000" stroke-width="1.2"/>
<path d="M111 617.3 L115.2 620 L111 622.7 Z" fill="#000"/>
<text x="60.60" y="640.90" font-size="7.6" text-anchor="middle" font-weight="bold" fill="#111" stroke="#111" stroke-width="0.12" >SM patient samples</text>
<text x="61.30" y="650.33" font-size="7.7" text-anchor="middle" font-weight="bold" fill="#111" stroke="#111" stroke-width="0.12" >FACS sorted BM mast cells</text>
<text x="173.50" y="621.58" font-size="8.1" text-anchor="middle" fill="#222" stroke="#222" stroke-width="0.18" >Whole transcriptome</text>
<text x="180.20" y="633.32" font-size="7.95" text-anchor="start" font-weight="bold" fill="#3ce42a" stroke="#3ce42a" stroke-width="0.12" >Metabolic Filtering</text>
<text x="172.70" y="645.96" font-size="8.05" text-anchor="middle" fill="#222" stroke="#222" stroke-width="0.18" >Metabolic transcriptome (12%)</text>
<text x="175.30" y="668.56" font-size="8.05" text-anchor="middle" fill="#222" stroke="#222" stroke-width="0.18" >Deregulated</text>
<text x="175.90" y="677.76" font-size="8.05" text-anchor="middle" fill="#222" stroke="#222" stroke-width="0.18" >metabolic transcripts</text>
<line x1="175.80" y1="626.40" x2="175.80" y2="636.40" stroke="#000" stroke-width="1.3"/>
<path d="M172.9 635.4 L175.8 638.8 L178.7 635.4 Z" fill="#000"/>
<line x1="175.80" y1="647.60" x2="175.80" y2="657.80" stroke="#000" stroke-width="1.3"/>
<path d="M172.9 656.8 L175.8 660.2 L178.7 656.8 Z" fill="#000"/>
<text x="392.50" y="379.92" font-size="9.35" text-anchor="middle" font-weight="bold" fill="#111" stroke="#111" stroke-width="0.12" >Metabolic Genes</text>
<defs><clipPath id="gc"><circle cx="382.6" cy="414.9" r="29.9"/></clipPath></defs>
<circle cx="382.6" cy="414.9" r="29.9" fill="#82d9a6"/>
<circle cx="400.8" cy="414.9" r="29.9" fill="#c9c9f7"/>
<circle cx="400.8" cy="414.9" r="29.9" fill="#5cab96" clip-path="url(#gc)"/>
<text x="318.20" y="417.36" font-size="8.9" text-anchor="middle" fill="#222" stroke="#222" stroke-width="0.18" >ISM vs CTRL</text>
<text x="468.50" y="417.38" font-size="8.95" text-anchor="middle" fill="#222" stroke="#222" stroke-width="0.18" >ASM vs CTRL</text>
<text x="362.50" y="417.52" font-size="7.1" text-anchor="middle" font-weight="bold" fill="#111" stroke="#111" stroke-width="0.12" >2.1%</text>
<text x="395.10" y="417.52" font-size="7.1" text-anchor="middle" font-weight="bold" fill="#111" stroke="#111" stroke-width="0.12" >63%</text>
<text x="423.40" y="417.52" font-size="7.1" text-anchor="middle" font-weight="bold" fill="#111" stroke="#111" stroke-width="0.12" >34%</text>
<line x1="350.40" y1="447.30" x2="435.80" y2="447.30" stroke="#000" stroke-width="1.2"/>
<line x1="395.20" y1="447.30" x2="395.20" y2="457.50" stroke="#000" stroke-width="1.2"/>
<path d="M392.4 456.4 L395.2 460.6 L398 456.4 Z" fill="#000"/>
<text x="396.20" y="471.12" font-size="9.35" text-anchor="middle" font-weight="bold" fill="#111" stroke="#111" stroke-width="0.12" >Gene ontology annotations</text>
<rect x="398.6" y="482.40" width="99.61" height="4.8" fill="#d2fad4" stroke="#9fe4c0" stroke-width="0.8"/>
<text x="394.70" y="487.27" font-size="6.95" text-anchor="end" fill="#1a1a1a" stroke="#1a1a1a" stroke-width="0.18" >Phospholipid metabolism</text>
<rect x="398.6" y="489.50" width="71.17" height="4.8" fill="#d2fad4" stroke="#9fe4c0" stroke-width="0.8"/>
<text x="394.70" y="494.37" font-size="6.95" text-anchor="end" fill="#1a1a1a" stroke="#1a1a1a" stroke-width="0.18" >Metabolism of lipids and lipoproteins</text>
<rect x="398.6" y="496.50" width="72.65" height="4.8" fill="#d2fad4" stroke="#9fe4c0" stroke-width="0.8"/>
<text x="394.70" y="501.37" font-size="6.95" text-anchor="end" fill="#1a1a1a" stroke="#1a1a1a" stroke-width="0.18" >Glycerophospholipid biosynthesis</text>
<rect x="398.6" y="503.50" width="70.07" height="4.8" fill="#d2fad4" stroke="#9fe4c0" stroke-width="0.8"/>
<text x="394.70" y="508.37" font-size="6.95" text-anchor="end" fill="#1a1a1a" stroke="#1a1a1a" stroke-width="0.18" >Acyl chain remodeling of phosphatidylinositol (PI)</text>
<line x1="398.50" y1="513.80" x2="510.50" y2="513.80" stroke="#000" stroke-width="1.1"/>
<line x1="398.50" y1="513.80" x2="398.50" y2="517.00" stroke="#000" stroke-width="1"/>
<line x1="426.20" y1="513.80" x2="426.20" y2="517.00" stroke="#000" stroke-width="1"/>
<line x1="453.90" y1="513.80" x2="453.90" y2="517.00" stroke="#000" stroke-width="1"/>
<line x1="481.60" y1="513.80" x2="481.60" y2="517.00" stroke="#000" stroke-width="1"/>
<line x1="509.30" y1="513.80" x2="509.30" y2="517.00" stroke="#000" stroke-width="1"/>
<text x="398.50" y="526.30" font-size="7.6" text-anchor="middle" fill="#222" stroke="#222" stroke-width="0.18" >0</text>
<text x="453.89" y="526.30" font-size="7.6" text-anchor="middle" fill="#222" stroke="#222" stroke-width="0.18" >1.5</text>
<text x="509.29" y="526.30" font-size="7.6" text-anchor="middle" fill="#222" stroke="#222" stroke-width="0.18" >3</text>
<text x="501.70" y="509.60" font-size="9.3" text-anchor="middle" fill="#222" stroke="#222" stroke-width="0.18" >ISM</text>
<text x="454.50" y="535.42" font-size="7.95" text-anchor="middle" fill="#222" stroke="#222" stroke-width="0.18" >−log10 (p-value)</text>
<rect x="398.6" y="545.30" width="108.60" height="5.8" fill="#a48ae4" stroke="#9179dc" stroke-width="0.5"/>
<text x="395.10" y="550.71" font-size="7.06" text-anchor="end" fill="#d61f2c" stroke="#d61f2c" stroke-width="0.18" >The citric acid cycle (TCA) cycle and RET*</text>
<rect x="398.6" y="553.10" width="59.00" height="5.8" fill="#a48ae4" stroke="#9179dc" stroke-width="0.5"/>
<text x="395.10" y="558.51" font-size="7.06" text-anchor="end" fill="#d61f2c" stroke="#d61f2c" stroke-width="0.18" >Mitochondrial electron transport</text>
<rect x="398.6" y="560.50" width="49.60" height="5.8" fill="#a48ae4" stroke="#9179dc" stroke-width="0.5"/>
<text x="395.10" y="565.91" font-size="7.06" text-anchor="end" fill="#1a1a1a" stroke="#1a1a1a" stroke-width="0.18" >Metabolism of nucleotides</text>
<rect x="398.6" y="568.00" width="28.30" height="5.8" fill="#a48ae4" stroke="#9179dc" stroke-width="0.5"/>
<text x="395.10" y="573.41" font-size="7.06" text-anchor="end" fill="#1a1a1a" stroke="#1a1a1a" stroke-width="0.18" >Metabolism of carbohydrates</text>
<rect x="398.6" y="575.10" width="28.30" height="5.8" fill="#a48ae4" stroke="#9179dc" stroke-width="0.5"/>
<text x="395.10" y="580.51" font-size="7.06" text-anchor="end" fill="#1a1a1a" stroke="#1a1a1a" stroke-width="0.18" >Purine metabolism</text>
<rect x="398.6" y="582.60" width="27.90" height="5.8" fill="#a48ae4" stroke="#9179dc" stroke-width="0.5"/>
<text x="395.10" y="588.01" font-size="7.06" text-anchor="end" fill="#d61f2c" stroke="#d61f2c" stroke-width="0.18" >Glycosaminoglycan metabolism</text>
<rect x="398.6" y="590.10" width="26.50" height="5.8" fill="#a48ae4" stroke="#9179dc" stroke-width="0.5"/>
<text x="395.10" y="595.51" font-size="7.06" text-anchor="end" fill="#1a1a1a" stroke="#1a1a1a" stroke-width="0.18" >Post-translational modification</text>
<rect x="398.6" y="597.60" width="26.00" height="5.8" fill="#a48ae4" stroke="#9179dc" stroke-width="0.5"/>
<text x="395.10" y="603.01" font-size="7.06" text-anchor="end" fill="#1a1a1a" stroke="#1a1a1a" stroke-width="0.18" >Metabolism of lipids and lipoproteins</text>
<rect x="398.6" y="604.70" width="22.10" height="5.8" fill="#a48ae4" stroke="#9179dc" stroke-width="0.5"/>
<text x="395.10" y="610.11" font-size="7.06" text-anchor="end" fill="#1a1a1a" stroke="#1a1a1a" stroke-width="0.18" >Sulfur amino acid metabolism</text>
<rect x="398.6" y="611.70" width="22.60" height="5.8" fill="#a48ae4" stroke="#9179dc" stroke-width="0.5"/>
<text x="395.10" y="617.11" font-size="7.06" text-anchor="end" fill="#1a1a1a" stroke="#1a1a1a" stroke-width="0.18" >Pyruvate metabolism and TCA cycle</text>
<rect x="398.6" y="618.70" width="20.70" height="5.8" fill="#a48ae4" stroke="#9179dc" stroke-width="0.5"/>
<text x="395.10" y="624.11" font-size="7.06" text-anchor="end" fill="#1a1a1a" stroke="#1a1a1a" stroke-width="0.18" >Heparan sulfate metabolism</text>
<rect x="398.6" y="625.90" width="17.20" height="5.8" fill="#a48ae4" stroke="#9179dc" stroke-width="0.5"/>
<text x="395.10" y="631.31" font-size="7.06" text-anchor="end" fill="#d61f2c" stroke="#d61f2c" stroke-width="0.18" >O-linked glycosylation</text>
<rect x="398.6" y="632.90" width="17.20" height="5.8" fill="#a48ae4" stroke="#9179dc" stroke-width="0.5"/>
<text x="395.10" y="638.31" font-size="7.06" text-anchor="end" fill="#1a1a1a" stroke="#1a1a1a" stroke-width="0.18" >Glycerophospholipid biosynthesis</text>
<rect x="398.6" y="640.40" width="14.50" height="5.8" fill="#a48ae4" stroke="#9179dc" stroke-width="0.5"/>
<text x="395.10" y="645.81" font-size="7.06" text-anchor="end" fill="#1a1a1a" stroke="#1a1a1a" stroke-width="0.18" >Sphingolipid metabolism</text>
<rect x="398.6" y="647.70" width="13.30" height="5.8" fill="#a48ae4" stroke="#9179dc" stroke-width="0.5"/>
<text x="395.10" y="653.11" font-size="7.06" text-anchor="end" fill="#1a1a1a" stroke="#1a1a1a" stroke-width="0.18" >Fatty acid, triacylglycerol, ketone body metabolism</text>
<line x1="398.50" y1="656.10" x2="510.50" y2="656.10" stroke="#000" stroke-width="1.1"/>
<line x1="398.50" y1="656.10" x2="398.50" y2="659.30" stroke="#000" stroke-width="1"/>
<text x="398.50" y="668.10" font-size="7.6" text-anchor="middle" fill="#222" stroke="#222" stroke-width="0.18" >0</text>
<line x1="426.25" y1="656.10" x2="426.25" y2="659.30" stroke="#000" stroke-width="1"/>
<text x="426.25" y="668.10" font-size="7.6" text-anchor="middle" fill="#222" stroke="#222" stroke-width="0.18" >3</text>
<line x1="454.00" y1="656.10" x2="454.00" y2="659.30" stroke="#000" stroke-width="1"/>
<text x="454.00" y="668.10" font-size="7.6" text-anchor="middle" fill="#222" stroke="#222" stroke-width="0.18" >6</text>
<line x1="481.75" y1="656.10" x2="481.75" y2="659.30" stroke="#000" stroke-width="1"/>
<text x="481.75" y="668.10" font-size="7.6" text-anchor="middle" fill="#222" stroke="#222" stroke-width="0.18" >9</text>
<line x1="509.50" y1="656.10" x2="509.50" y2="659.30" stroke="#000" stroke-width="1"/>
<text x="509.50" y="668.10" font-size="7.6" text-anchor="middle" fill="#222" stroke="#222" stroke-width="0.18" >12</text>
<text x="500.20" y="653.00" font-size="9.3" text-anchor="middle" fill="#222" stroke="#222" stroke-width="0.18" >ASM</text>
<text x="454.90" y="678.42" font-size="7.95" text-anchor="middle" fill="#222" stroke="#222" stroke-width="0.18" >−log10 (p-value)</text>
<text x="395.10" y="664.69" font-size="7.0" text-anchor="end" fill="#1a1a1a" stroke="#1a1a1a" stroke-width="0.18" >*RET: respiratory electron transport</text>
<rect x="0.6" y="0.6" width="518.8" height="683.8" fill="none" stroke="#000" stroke-width="1.3"/>
</svg>
</body></html>
